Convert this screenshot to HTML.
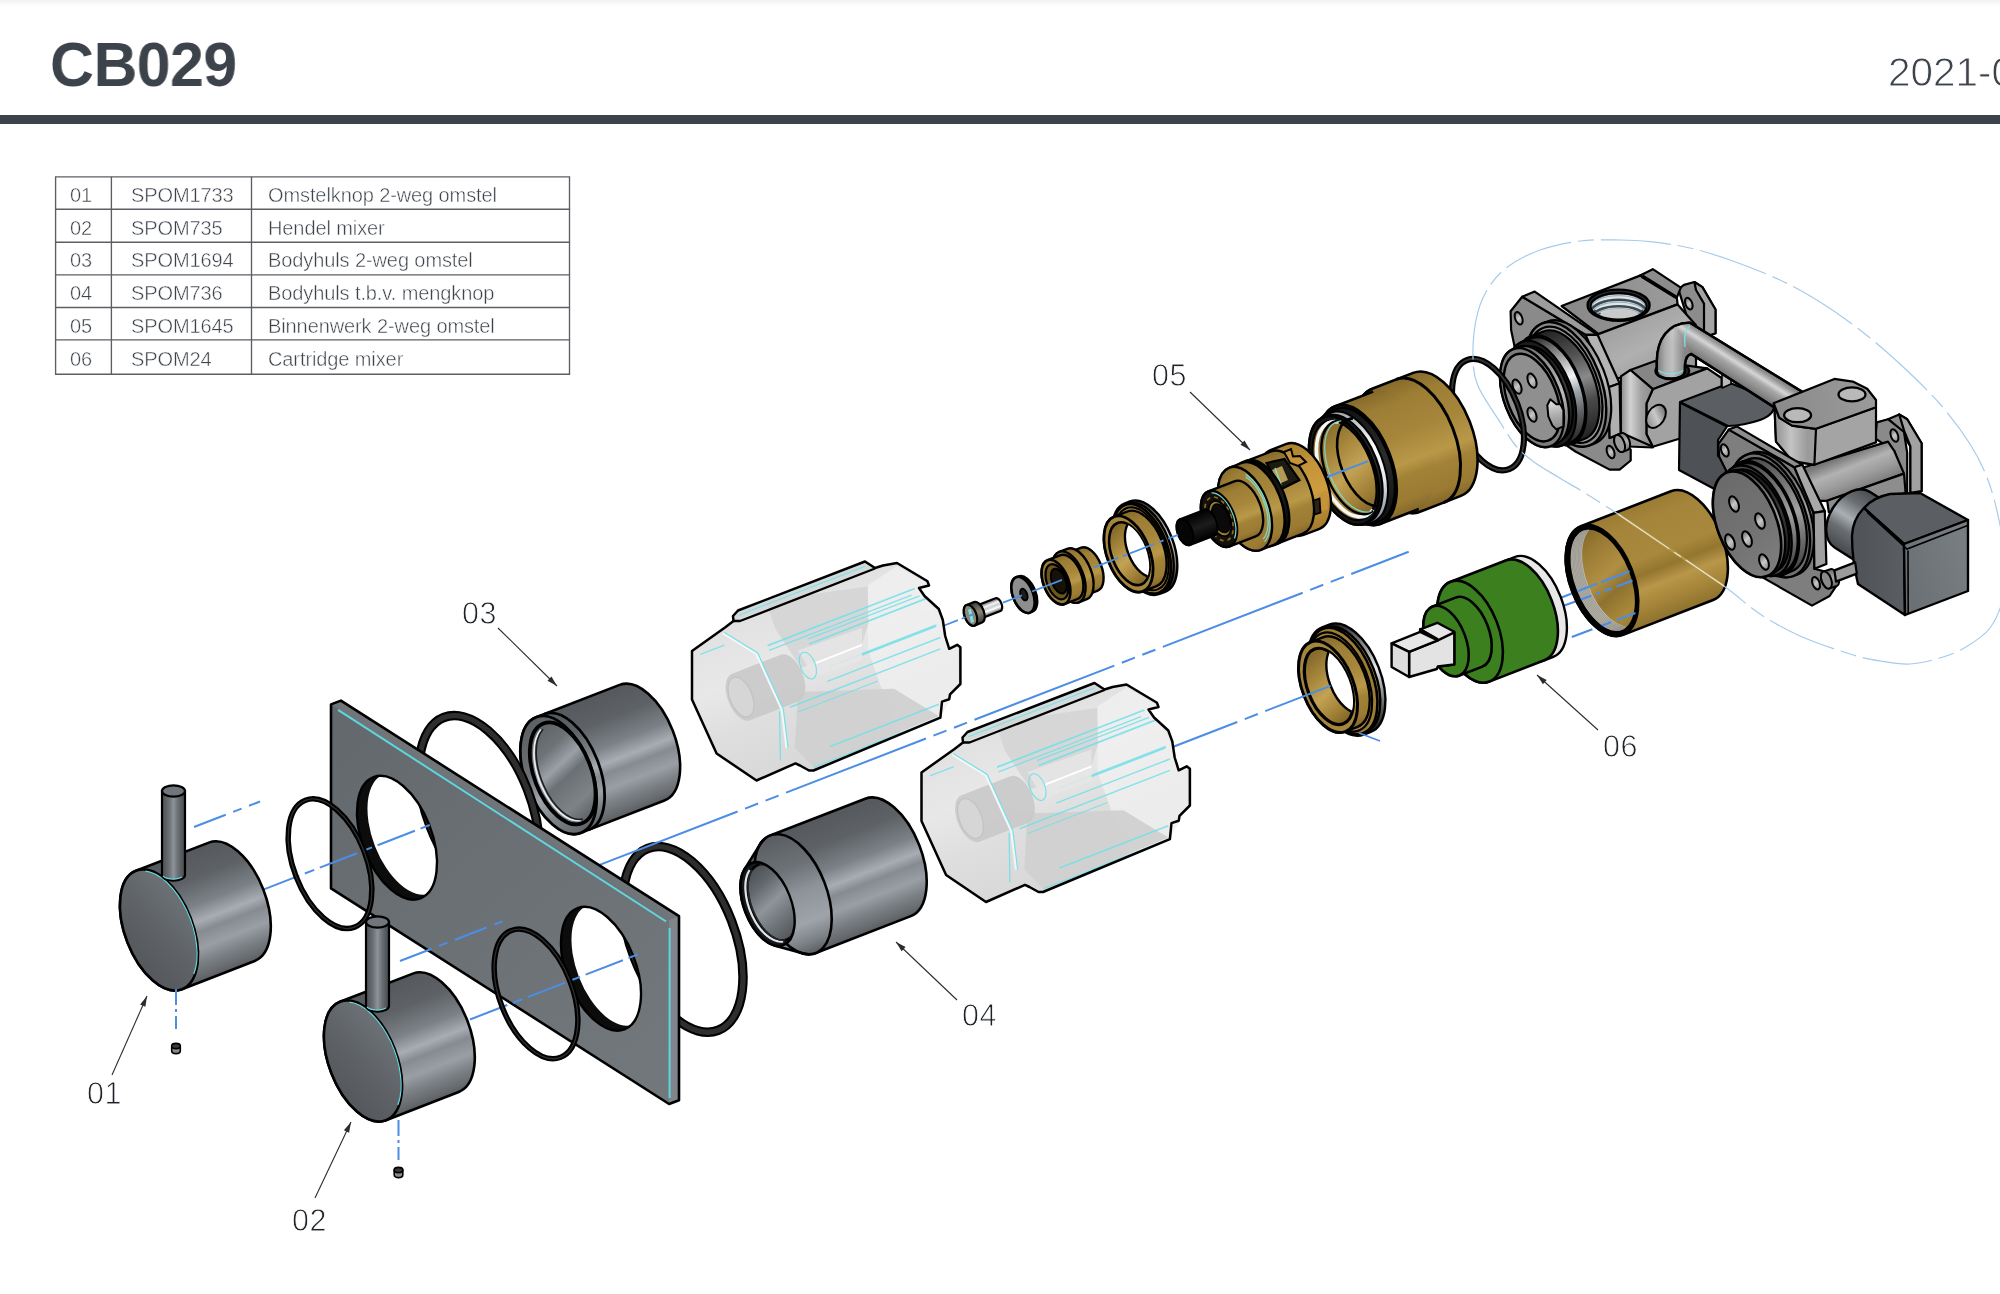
<!DOCTYPE html>
<html lang="nl"><head><meta charset="utf-8"><title>CB029</title>
<style>
html,body{margin:0;padding:0;background:#fff}
body{width:2000px;height:1294px;position:relative;overflow:hidden;font-family:"Liberation Sans",sans-serif;color:#3d434b}
.top{position:absolute;left:0;top:0;width:2000px;height:7px;background:linear-gradient(#f0f0f0,#fbfbfb 60%,#fff)}
h1{will-change:transform;position:absolute;left:49.6px;top:29px;margin:0;height:70px;font-size:62.5px;line-height:70px;font-weight:700;color:#3d434b;white-space:nowrap;transform-origin:0 50%;transform:scaleX(0.972);letter-spacing:-0.5px}
.date{position:absolute;left:1887.5px;top:49px;font-size:40.5px;line-height:46px;white-space:nowrap;color:#3d434b;-webkit-text-stroke:0.9px #fff;will-change:transform}
.t{position:absolute;font-size:20px;line-height:24px;color:#3d434b;white-space:nowrap;-webkit-text-stroke:0.45px #fff;letter-spacing:-0.1px;will-change:transform}
.bar{position:absolute;left:0;top:115px;width:2000px;height:8.5px;background:#3d434b}
.lb{position:absolute;font-size:30.5px;line-height:40px;color:#1e2226;-webkit-text-stroke:0.85px #fff;white-space:nowrap;letter-spacing:0.6px;will-change:transform}
</style></head><body>
<div class="top"></div>
<h1>CB029</h1>
<div class="bar"></div>
<svg width="2000" height="1294" viewBox="0 0 2000 1294" style="position:absolute;left:0;top:0"><defs><linearGradient id="g1" gradientUnits="userSpaceOnUse" x1="1580.9" y1="526.2" x2="1623.1" y2="634.9"><stop offset="0" stop-color="#9a7b33"/><stop offset="0.15" stop-color="#a5853a"/><stop offset="0.45" stop-color="#a8883c"/><stop offset="0.58" stop-color="#94762f"/><stop offset="0.7" stop-color="#b8964a"/><stop offset="0.85" stop-color="#a58539"/><stop offset="1" stop-color="#8d712f"/></linearGradient><linearGradient id="g2" gradientUnits="userSpaceOnUse" x1="1580.9" y1="526.2" x2="1623.1" y2="634.9"><stop offset="0" stop-color="#7d6326"/><stop offset="0.2" stop-color="#9a7b33"/><stop offset="0.45" stop-color="#b08f42"/><stop offset="0.6" stop-color="#8f7230"/><stop offset="0.8" stop-color="#a88839"/><stop offset="1" stop-color="#8d712f"/></linearGradient><clipPath id="c3"><path d="M1628.6 570.2A28.5 53.4 -21.2 0 1 1621.3 630.3A28.5 53.4 -21.2 0 1 1575.4 590.8A28.5 53.4 -21.2 0 1 1582.7 530.7A28.5 53.4 -21.2 0 1 1628.6 570.2Z"/></clipPath><linearGradient id="g4" gradientUnits="userSpaceOnUse" x1="1686.6" y1="297.8" x2="1691" y2="309.4"><stop offset="0" stop-color="#6a6a6a"/><stop offset="0.5" stop-color="#c8c8c8"/><stop offset="1" stop-color="#8a8a8a"/></linearGradient><linearGradient id="g5" gradientUnits="userSpaceOnUse" x1="1561.6" y1="306" x2="1676.8" y2="297.7"><stop offset="0" stop-color="#878787"/><stop offset="1" stop-color="#9b9b9b"/></linearGradient><clipPath id="c6"><ellipse cx="1618.6" cy="306.2" rx="28" ry="13.2"/></clipPath><linearGradient id="g7" gradientUnits="userSpaceOnUse" x1="1598.4" y1="334" x2="1632" y2="394"><stop offset="0" stop-color="#a0a0a0"/><stop offset="0.5" stop-color="#b0b0b0"/><stop offset="1" stop-color="#9a9a9a"/></linearGradient><linearGradient id="g8" gradientUnits="userSpaceOnUse" x1="1620.8" y1="394" x2="1652.8" y2="394"><stop offset="0" stop-color="#8a8a8a"/><stop offset="0.3" stop-color="#d2d2d2"/><stop offset="0.65" stop-color="#a0a0a0"/><stop offset="1" stop-color="#8c8c8c"/></linearGradient><linearGradient id="g9" gradientUnits="userSpaceOnUse" x1="1662.7" y1="405.9" x2="1649.3" y2="426.9"><stop offset="0" stop-color="#6a6a6a"/><stop offset="0.5" stop-color="#c8c8c8"/><stop offset="1" stop-color="#8a8a8a"/></linearGradient><linearGradient id="g10" gradientUnits="userSpaceOnUse" x1="1702.7" y1="327.9" x2="1687.3" y2="352.1"><stop offset="0" stop-color="#6e6e6e"/><stop offset="0.2" stop-color="#9c9c9c"/><stop offset="0.38" stop-color="#d6d6d6"/><stop offset="0.55" stop-color="#a6a6a6"/><stop offset="0.8" stop-color="#8a8a8a"/><stop offset="1" stop-color="#707070"/></linearGradient><linearGradient id="g11" gradientUnits="userSpaceOnUse" x1="1656.8" y1="0" x2="1684.8" y2="0"><stop offset="0" stop-color="#7a7a7a"/><stop offset="0.3" stop-color="#b8b8b8"/><stop offset="0.55" stop-color="#cfcfcf"/><stop offset="1" stop-color="#8a8a8a"/></linearGradient><linearGradient id="g12" gradientUnits="userSpaceOnUse" x1="1516.3" y1="312.2" x2="1521" y2="324.3"><stop offset="0" stop-color="#6a6a6a"/><stop offset="0.5" stop-color="#c8c8c8"/><stop offset="1" stop-color="#8a8a8a"/></linearGradient><linearGradient id="g13" gradientUnits="userSpaceOnUse" x1="1608.2" y1="445.9" x2="1612.9" y2="458.1"><stop offset="0" stop-color="#6a6a6a"/><stop offset="0.5" stop-color="#c8c8c8"/><stop offset="1" stop-color="#8a8a8a"/></linearGradient><linearGradient id="g14" gradientUnits="userSpaceOnUse" x1="1616.4" y1="435.1" x2="1622.9" y2="451.9"><stop offset="0" stop-color="#777"/><stop offset="0.5" stop-color="#b5b5b5"/><stop offset="1" stop-color="#777"/></linearGradient><linearGradient id="g15" gradientUnits="userSpaceOnUse" x1="1542.4" y1="323.4" x2="1589.6" y2="445.3"><stop offset="0" stop-color="#6e6e6e"/><stop offset="0.3" stop-color="#9a9a9a"/><stop offset="0.55" stop-color="#bdbdbd"/><stop offset="0.8" stop-color="#8a8a8a"/><stop offset="1" stop-color="#6a6a6a"/></linearGradient><linearGradient id="g16" gradientUnits="userSpaceOnUse" x1="1530.2" y1="336.6" x2="1571.8" y2="443.8"><stop offset="0" stop-color="#222"/><stop offset="0.3" stop-color="#555"/><stop offset="0.5" stop-color="#8a8a8a"/><stop offset="0.7" stop-color="#4a4a4a"/><stop offset="1" stop-color="#222"/></linearGradient><linearGradient id="g17" gradientUnits="userSpaceOnUse" x1="1521.9" y1="341.9" x2="1562.1" y2="445.4"><stop offset="0" stop-color="#2a2a2a"/><stop offset="0.2" stop-color="#8a8a8a"/><stop offset="0.45" stop-color="#f2f4f6"/><stop offset="0.6" stop-color="#9aa2a8"/><stop offset="0.8" stop-color="#5a5a5a"/><stop offset="1" stop-color="#2a2a2a"/></linearGradient><linearGradient id="g18" gradientUnits="userSpaceOnUse" x1="1518.9" y1="349" x2="1555.1" y2="442.2"><stop offset="0" stop-color="#111"/><stop offset="0.5" stop-color="#3a3a3a"/><stop offset="1" stop-color="#111"/></linearGradient><linearGradient id="g19" gradientUnits="userSpaceOnUse" x1="1513.2" y1="349.1" x2="1550.8" y2="446"><stop offset="0" stop-color="#6e6e6e"/><stop offset="0.3" stop-color="#9a9a9a"/><stop offset="0.55" stop-color="#bdbdbd"/><stop offset="0.8" stop-color="#8a8a8a"/><stop offset="1" stop-color="#6a6a6a"/></linearGradient><linearGradient id="g20" gradientUnits="userSpaceOnUse" x1="1514.3" y1="379.6" x2="1519.7" y2="393.5"><stop offset="0" stop-color="#6a6a6a"/><stop offset="0.5" stop-color="#c8c8c8"/><stop offset="1" stop-color="#8a8a8a"/></linearGradient><linearGradient id="g21" gradientUnits="userSpaceOnUse" x1="1529.3" y1="373.6" x2="1534.7" y2="387.5"><stop offset="0" stop-color="#6a6a6a"/><stop offset="0.5" stop-color="#c8c8c8"/><stop offset="1" stop-color="#8a8a8a"/></linearGradient><linearGradient id="g22" gradientUnits="userSpaceOnUse" x1="1529.3" y1="407.6" x2="1534.7" y2="421.5"><stop offset="0" stop-color="#6a6a6a"/><stop offset="0.5" stop-color="#c8c8c8"/><stop offset="1" stop-color="#8a8a8a"/></linearGradient><linearGradient id="g23" gradientUnits="userSpaceOnUse" x1="1550.3" y1="399.3" x2="1556.3" y2="429.4"><stop offset="0" stop-color="#e8e8e8"/><stop offset="0.5" stop-color="#b0b0b0"/><stop offset="1" stop-color="#8a8a8a"/></linearGradient><linearGradient id="g24" gradientUnits="userSpaceOnUse" x1="1892" y1="429.5" x2="1896.8" y2="441.6"><stop offset="0" stop-color="#6a6a6a"/><stop offset="0.5" stop-color="#c8c8c8"/><stop offset="1" stop-color="#8a8a8a"/></linearGradient><linearGradient id="g25" gradientUnits="userSpaceOnUse" x1="1824" y1="464" x2="1840" y2="504"><stop offset="0" stop-color="#777"/><stop offset="0.3" stop-color="#b2b2b2"/><stop offset="0.6" stop-color="#9a9a9a"/><stop offset="1" stop-color="#6f6f6f"/></linearGradient><linearGradient id="g26" gradientUnits="userSpaceOnUse" x1="1776" y1="416" x2="1872" y2="400"><stop offset="0" stop-color="#8a8a8a"/><stop offset="1" stop-color="#9a9a9a"/></linearGradient><linearGradient id="g27" gradientUnits="userSpaceOnUse" x1="1774.4" y1="432" x2="1816" y2="432"><stop offset="0" stop-color="#8f8f8f"/><stop offset="0.4" stop-color="#c4c4c4"/><stop offset="0.8" stop-color="#9a9a9a"/><stop offset="1" stop-color="#a0a0a0"/></linearGradient><linearGradient id="g28" gradientUnits="userSpaceOnUse" x1="1904.6" y1="513.9" x2="1869.2" y2="569.6"><stop offset="0" stop-color="#4a4e52"/><stop offset="0.25" stop-color="#6a6e72"/><stop offset="0.5" stop-color="#a9afb4"/><stop offset="0.7" stop-color="#6a6e72"/><stop offset="1" stop-color="#45494d"/></linearGradient><linearGradient id="g29" gradientUnits="userSpaceOnUse" x1="1852" y1="560" x2="1904" y2="560"><stop offset="0" stop-color="#4f5357"/><stop offset="1" stop-color="#5a5e62"/></linearGradient><linearGradient id="g30" gradientUnits="userSpaceOnUse" x1="1904" y1="580" x2="1968" y2="560"><stop offset="0" stop-color="#6b7075"/><stop offset="1" stop-color="#787d82"/></linearGradient><linearGradient id="g31" gradientUnits="userSpaceOnUse" x1="1722.4" y1="444.3" x2="1727.2" y2="456.5"><stop offset="0" stop-color="#6a6a6a"/><stop offset="0.5" stop-color="#c8c8c8"/><stop offset="1" stop-color="#8a8a8a"/></linearGradient><linearGradient id="g32" gradientUnits="userSpaceOnUse" x1="1813.6" y1="577.1" x2="1818.4" y2="589.3"><stop offset="0" stop-color="#6a6a6a"/><stop offset="0.5" stop-color="#c8c8c8"/><stop offset="1" stop-color="#8a8a8a"/></linearGradient><linearGradient id="g33" gradientUnits="userSpaceOnUse" x1="1823.1" y1="571.6" x2="1829.7" y2="588.4"><stop offset="0" stop-color="#666"/><stop offset="0.5" stop-color="#a5a5a5"/><stop offset="1" stop-color="#666"/></linearGradient><linearGradient id="g34" gradientUnits="userSpaceOnUse" x1="1746.5" y1="454.8" x2="1793.5" y2="576"><stop offset="0" stop-color="#4a4a4a"/><stop offset="0.3" stop-color="#777"/><stop offset="0.55" stop-color="#a0a0a0"/><stop offset="0.8" stop-color="#6a6a6a"/><stop offset="1" stop-color="#444"/></linearGradient><linearGradient id="g35" gradientUnits="userSpaceOnUse" x1="1740.3" y1="462.5" x2="1783.7" y2="574.4"><stop offset="0" stop-color="#4a4a4a"/><stop offset="0.3" stop-color="#777"/><stop offset="0.55" stop-color="#a0a0a0"/><stop offset="0.8" stop-color="#6a6a6a"/><stop offset="1" stop-color="#444"/></linearGradient><linearGradient id="g36" gradientUnits="userSpaceOnUse" x1="1735" y1="466.7" x2="1777" y2="574.9"><stop offset="0" stop-color="#4a4a4a"/><stop offset="0.3" stop-color="#777"/><stop offset="0.55" stop-color="#a0a0a0"/><stop offset="0.8" stop-color="#6a6a6a"/><stop offset="1" stop-color="#444"/></linearGradient><linearGradient id="g37" gradientUnits="userSpaceOnUse" x1="1731.5" y1="472.4" x2="1770.5" y2="573.1"><stop offset="0" stop-color="#111"/><stop offset="0.5" stop-color="#3a3a3a"/><stop offset="1" stop-color="#111"/></linearGradient><linearGradient id="g38" gradientUnits="userSpaceOnUse" x1="1726.9" y1="472.5" x2="1767.1" y2="576"><stop offset="0" stop-color="#4a4a4a"/><stop offset="0.3" stop-color="#777"/><stop offset="0.55" stop-color="#a0a0a0"/><stop offset="0.8" stop-color="#6a6a6a"/><stop offset="1" stop-color="#444"/></linearGradient><linearGradient id="g39" gradientUnits="userSpaceOnUse" x1="1727.1" y1="473" x2="1766.9" y2="575.6"><stop offset="0" stop-color="#6a6a6a"/><stop offset="0.6" stop-color="#737373"/><stop offset="1" stop-color="#7e7e7e"/></linearGradient><linearGradient id="g40" gradientUnits="userSpaceOnUse" x1="1731.1" y1="496.5" x2="1736.9" y2="511.5"><stop offset="0" stop-color="#6a6a6a"/><stop offset="0.5" stop-color="#c8c8c8"/><stop offset="1" stop-color="#8a8a8a"/></linearGradient><linearGradient id="g41" gradientUnits="userSpaceOnUse" x1="1757.1" y1="513.5" x2="1762.9" y2="528.5"><stop offset="0" stop-color="#6a6a6a"/><stop offset="0.5" stop-color="#c8c8c8"/><stop offset="1" stop-color="#8a8a8a"/></linearGradient><linearGradient id="g42" gradientUnits="userSpaceOnUse" x1="1744.1" y1="531.5" x2="1749.9" y2="546.5"><stop offset="0" stop-color="#6a6a6a"/><stop offset="0.5" stop-color="#c8c8c8"/><stop offset="1" stop-color="#8a8a8a"/></linearGradient><linearGradient id="g43" gradientUnits="userSpaceOnUse" x1="1727.1" y1="534.5" x2="1732.9" y2="549.5"><stop offset="0" stop-color="#6a6a6a"/><stop offset="0.5" stop-color="#c8c8c8"/><stop offset="1" stop-color="#8a8a8a"/></linearGradient><linearGradient id="g44" gradientUnits="userSpaceOnUse" x1="1761.1" y1="554.5" x2="1766.9" y2="569.5"><stop offset="0" stop-color="#6a6a6a"/><stop offset="0.5" stop-color="#c8c8c8"/><stop offset="1" stop-color="#8a8a8a"/></linearGradient><linearGradient id="g45" gradientUnits="userSpaceOnUse" x1="1372.1" y1="388.8" x2="1419.9" y2="511.8"><stop offset="0" stop-color="#866a2a"/><stop offset="0.15" stop-color="#9d7e35"/><stop offset="0.4" stop-color="#a6863b"/><stop offset="0.62" stop-color="#b99848"/><stop offset="0.72" stop-color="#a28236"/><stop offset="0.9" stop-color="#9b7b33"/><stop offset="1" stop-color="#84682a"/></linearGradient><linearGradient id="g46" gradientUnits="userSpaceOnUse" x1="1335.2" y1="406.3" x2="1380.8" y2="523.8"><stop offset="0" stop-color="#866a2a"/><stop offset="0.15" stop-color="#9d7e35"/><stop offset="0.4" stop-color="#a6863b"/><stop offset="0.62" stop-color="#b99848"/><stop offset="0.72" stop-color="#a28236"/><stop offset="0.9" stop-color="#9b7b33"/><stop offset="1" stop-color="#84682a"/></linearGradient><linearGradient id="g47" gradientUnits="userSpaceOnUse" x1="1330.3" y1="411.4" x2="1373.7" y2="523.3"><stop offset="0" stop-color="#111"/><stop offset="0.5" stop-color="#2c2c2c"/><stop offset="1" stop-color="#111"/></linearGradient><linearGradient id="g48" gradientUnits="userSpaceOnUse" x1="1326.3" y1="414.6" x2="1368.7" y2="523.6"><stop offset="0" stop-color="#9aa2a8"/><stop offset="0.4" stop-color="#ffffff"/><stop offset="0.7" stop-color="#e4e8ec"/><stop offset="1" stop-color="#8a9096"/></linearGradient><linearGradient id="g49" gradientUnits="userSpaceOnUse" x1="1323.4" y1="417.3" x2="1364.6" y2="523.6"><stop offset="0" stop-color="#111"/><stop offset="0.5" stop-color="#2c2c2c"/><stop offset="1" stop-color="#111"/></linearGradient><linearGradient id="g50" gradientUnits="userSpaceOnUse" x1="1325.2" y1="422" x2="1362.8" y2="518.9"><stop offset="0" stop-color="#7d6326"/><stop offset="0.3" stop-color="#a4853b"/><stop offset="0.55" stop-color="#c3a254"/><stop offset="0.8" stop-color="#a08036"/><stop offset="1" stop-color="#7a6024"/></linearGradient><linearGradient id="g51" gradientUnits="userSpaceOnUse" x1="1270.5" y1="450.1" x2="1303.5" y2="535"><stop offset="0" stop-color="#a8802f"/><stop offset="0.3" stop-color="#c4943a"/><stop offset="0.6" stop-color="#cf9d40"/><stop offset="1" stop-color="#a37a2b"/></linearGradient><linearGradient id="g52" gradientUnits="userSpaceOnUse" x1="1246.1" y1="461.2" x2="1277.9" y2="543.3"><stop offset="0" stop-color="#866a2a"/><stop offset="0.15" stop-color="#9d7e35"/><stop offset="0.4" stop-color="#a6863b"/><stop offset="0.62" stop-color="#b99848"/><stop offset="0.72" stop-color="#a28236"/><stop offset="0.9" stop-color="#9b7b33"/><stop offset="1" stop-color="#84682a"/></linearGradient><linearGradient id="g53" gradientUnits="userSpaceOnUse" x1="1241.4" y1="462.5" x2="1273.6" y2="545.5"><stop offset="0" stop-color="#000"/><stop offset="0.5" stop-color="#1c1c1c"/><stop offset="1" stop-color="#000"/></linearGradient><linearGradient id="g54" gradientUnits="userSpaceOnUse" x1="1229.1" y1="467.8" x2="1260.9" y2="549.9"><stop offset="0" stop-color="#866a2a"/><stop offset="0.15" stop-color="#9d7e35"/><stop offset="0.4" stop-color="#a6863b"/><stop offset="0.62" stop-color="#b99848"/><stop offset="0.72" stop-color="#a28236"/><stop offset="0.9" stop-color="#9b7b33"/><stop offset="1" stop-color="#84682a"/></linearGradient><linearGradient id="g55" gradientUnits="userSpaceOnUse" x1="1229.1" y1="467.8" x2="1260.9" y2="549.9"><stop offset="0" stop-color="#866a2a"/><stop offset="0.15" stop-color="#9d7e35"/><stop offset="0.4" stop-color="#a6863b"/><stop offset="0.62" stop-color="#b99848"/><stop offset="0.72" stop-color="#a28236"/><stop offset="0.9" stop-color="#9b7b33"/><stop offset="1" stop-color="#84682a"/></linearGradient><linearGradient id="g56" gradientUnits="userSpaceOnUse" x1="1208.3" y1="491.4" x2="1229.7" y2="546.4"><stop offset="0" stop-color="#866a2a"/><stop offset="0.15" stop-color="#9d7e35"/><stop offset="0.4" stop-color="#a6863b"/><stop offset="0.62" stop-color="#b99848"/><stop offset="0.72" stop-color="#a28236"/><stop offset="0.9" stop-color="#9b7b33"/><stop offset="1" stop-color="#84682a"/></linearGradient><linearGradient id="g57" gradientUnits="userSpaceOnUse" x1="1180" y1="519.3" x2="1190" y2="545"><stop offset="0" stop-color="#000"/><stop offset="0.5" stop-color="#1c1c1c"/><stop offset="1" stop-color="#000"/></linearGradient><linearGradient id="g58" gradientUnits="userSpaceOnUse" x1="975.5" y1="606.1" x2="980.5" y2="618.7"><stop offset="0" stop-color="#555"/><stop offset="0.3" stop-color="#f4f4f4"/><stop offset="0.5" stop-color="#c9ced2"/><stop offset="0.7" stop-color="#ffffff"/><stop offset="1" stop-color="#555"/></linearGradient><linearGradient id="g59" gradientUnits="userSpaceOnUse" x1="966.5" y1="605" x2="974.5" y2="625.6"><stop offset="0" stop-color="#3a3a3a"/><stop offset="0.5" stop-color="#8a8674"/><stop offset="1" stop-color="#3a3a3a"/></linearGradient><linearGradient id="g60" gradientUnits="userSpaceOnUse" x1="1016.1" y1="577.2" x2="1029.9" y2="612.7"><stop offset="0" stop-color="#222"/><stop offset="1" stop-color="#222"/></linearGradient><linearGradient id="g61" gradientUnits="userSpaceOnUse" x1="1068.7" y1="552.6" x2="1085.3" y2="595.4"><stop offset="0" stop-color="#866a2a"/><stop offset="0.15" stop-color="#9d7e35"/><stop offset="0.4" stop-color="#a6863b"/><stop offset="0.62" stop-color="#b99848"/><stop offset="0.72" stop-color="#a28236"/><stop offset="0.9" stop-color="#9b7b33"/><stop offset="1" stop-color="#84682a"/></linearGradient><linearGradient id="g62" gradientUnits="userSpaceOnUse" x1="1059.2" y1="551.9" x2="1078.8" y2="602.3"><stop offset="0" stop-color="#866a2a"/><stop offset="0.15" stop-color="#9d7e35"/><stop offset="0.4" stop-color="#a6863b"/><stop offset="0.62" stop-color="#b99848"/><stop offset="0.72" stop-color="#a28236"/><stop offset="0.9" stop-color="#9b7b33"/><stop offset="1" stop-color="#84682a"/></linearGradient><linearGradient id="g63" gradientUnits="userSpaceOnUse" x1="1047.5" y1="560.2" x2="1064.5" y2="604.1"><stop offset="0" stop-color="#866a2a"/><stop offset="0.15" stop-color="#9d7e35"/><stop offset="0.4" stop-color="#a6863b"/><stop offset="0.62" stop-color="#b99848"/><stop offset="0.72" stop-color="#a28236"/><stop offset="0.9" stop-color="#9b7b33"/><stop offset="1" stop-color="#84682a"/></linearGradient><linearGradient id="g64" gradientUnits="userSpaceOnUse" x1="1124.5" y1="503.6" x2="1159.5" y2="594"><stop offset="0" stop-color="#1a1a1a"/><stop offset="0.5" stop-color="#dfe3e6"/><stop offset="1" stop-color="#1a1a1a"/></linearGradient><linearGradient id="g65" gradientUnits="userSpaceOnUse" x1="1125" y1="505" x2="1159" y2="592.6"><stop offset="0" stop-color="#866a2a"/><stop offset="0.15" stop-color="#9d7e35"/><stop offset="0.4" stop-color="#a6863b"/><stop offset="0.62" stop-color="#b99848"/><stop offset="0.72" stop-color="#a28236"/><stop offset="0.9" stop-color="#9b7b33"/><stop offset="1" stop-color="#84682a"/></linearGradient><linearGradient id="g66" gradientUnits="userSpaceOnUse" x1="1114" y1="516.7" x2="1143" y2="591.3"><stop offset="0" stop-color="#866a2a"/><stop offset="0.15" stop-color="#9d7e35"/><stop offset="0.4" stop-color="#a6863b"/><stop offset="0.62" stop-color="#b99848"/><stop offset="0.72" stop-color="#a28236"/><stop offset="0.9" stop-color="#9b7b33"/><stop offset="1" stop-color="#84682a"/></linearGradient><linearGradient id="g67" gradientUnits="userSpaceOnUse" x1="1116.6" y1="523.3" x2="1140.4" y2="584.8"><stop offset="0" stop-color="#7d6326"/><stop offset="0.3" stop-color="#a4853b"/><stop offset="0.55" stop-color="#c3a254"/><stop offset="0.8" stop-color="#a08036"/><stop offset="1" stop-color="#7a6024"/></linearGradient><clipPath id="c68"><path d="M1145.4 547.5A17.2 32.2 -21.2 0 1 1141.1 583.7A17.2 32.2 -21.2 0 1 1113.4 559.9A17.2 32.2 -21.2 0 1 1117.8 523.6A17.2 32.2 -21.2 0 1 1145.4 547.5Z"/></clipPath><linearGradient id="g69" gradientUnits="userSpaceOnUse" x1="1505.7" y1="560.5" x2="1544.3" y2="660.3"><stop offset="0" stop-color="#e8e8e8"/><stop offset="1" stop-color="#e8e8e8"/></linearGradient><linearGradient id="g70" gradientUnits="userSpaceOnUse" x1="1450.7" y1="581.8" x2="1489.3" y2="681.6"><stop offset="0" stop-color="#3b7f1f"/><stop offset="1" stop-color="#3b7f1f"/></linearGradient><linearGradient id="g71" gradientUnits="userSpaceOnUse" x1="1432.6" y1="606.5" x2="1459.4" y2="675.5"><stop offset="0" stop-color="#3b7f1f"/><stop offset="1" stop-color="#3b7f1f"/></linearGradient><linearGradient id="g72" gradientUnits="userSpaceOnUse" x1="1322.2" y1="627.3" x2="1363.8" y2="734.6"><stop offset="0" stop-color="#1a1a1a"/><stop offset="0.5" stop-color="#e6eaee"/><stop offset="1" stop-color="#1a1a1a"/></linearGradient><linearGradient id="g73" gradientUnits="userSpaceOnUse" x1="1322.8" y1="628.7" x2="1363.2" y2="733.2"><stop offset="0" stop-color="#866a2a"/><stop offset="0.15" stop-color="#9d7e35"/><stop offset="0.4" stop-color="#a6863b"/><stop offset="0.62" stop-color="#b99848"/><stop offset="0.72" stop-color="#a28236"/><stop offset="0.9" stop-color="#9b7b33"/><stop offset="1" stop-color="#84682a"/></linearGradient><linearGradient id="g74" gradientUnits="userSpaceOnUse" x1="1310.6" y1="642" x2="1345.4" y2="731.5"><stop offset="0" stop-color="#866a2a"/><stop offset="0.15" stop-color="#9d7e35"/><stop offset="0.4" stop-color="#a6863b"/><stop offset="0.62" stop-color="#b99848"/><stop offset="0.72" stop-color="#a28236"/><stop offset="0.9" stop-color="#9b7b33"/><stop offset="1" stop-color="#84682a"/></linearGradient><linearGradient id="g75" gradientUnits="userSpaceOnUse" x1="1313.5" y1="649.5" x2="1342.5" y2="724.1"><stop offset="0" stop-color="#7d6326"/><stop offset="0.3" stop-color="#a4853b"/><stop offset="0.55" stop-color="#c3a254"/><stop offset="0.8" stop-color="#a08036"/><stop offset="1" stop-color="#7a6024"/></linearGradient><clipPath id="c76"><path d="M1348.4 678.8A20.9 39.2 -21.2 0 1 1343.1 723A20.9 39.2 -21.2 0 1 1309.4 694A20.9 39.2 -21.2 0 1 1314.8 649.9A20.9 39.2 -21.2 0 1 1348.4 678.8Z"/></clipPath><linearGradient id="g77" gradientUnits="userSpaceOnUse" x1="760" y1="600" x2="830" y2="780"><stop offset="0" stop-color="#e0e0e0"/><stop offset="0.35" stop-color="#e8e8e8"/><stop offset="0.6" stop-color="#dedede"/><stop offset="1" stop-color="#d6d6d6"/></linearGradient><linearGradient id="g78" gradientUnits="userSpaceOnUse" x1="989.5" y1="721.5" x2="1059.5" y2="901.5"><stop offset="0" stop-color="#e0e0e0"/><stop offset="0.35" stop-color="#e8e8e8"/><stop offset="0.6" stop-color="#dedede"/><stop offset="1" stop-color="#d6d6d6"/></linearGradient><linearGradient id="g79" gradientUnits="userSpaceOnUse" x1="536.1" y1="717.3" x2="580.9" y2="832.9"><stop offset="0" stop-color="#55595e"/><stop offset="0.22" stop-color="#5e6267"/><stop offset="0.42" stop-color="#7b8186"/><stop offset="0.55" stop-color="#a7adb2"/><stop offset="0.63" stop-color="#858b90"/><stop offset="0.75" stop-color="#999fa4"/><stop offset="0.86" stop-color="#7b8085"/><stop offset="0.95" stop-color="#686c71"/><stop offset="1" stop-color="#5a5e62"/></linearGradient><linearGradient id="g80" gradientUnits="userSpaceOnUse" x1="536.1" y1="717.3" x2="580.9" y2="832.9"><stop offset="0" stop-color="#5a5e63"/><stop offset="0.35" stop-color="#6d7277"/><stop offset="0.55" stop-color="#a0a6ab"/><stop offset="0.75" stop-color="#7b8085"/><stop offset="1" stop-color="#5e6267"/></linearGradient><linearGradient id="g81" gradientUnits="userSpaceOnUse" x1="543.5" y1="724" x2="581.9" y2="822.9"><stop offset="0" stop-color="#5d6166"/><stop offset="0.25" stop-color="#6e7378"/><stop offset="0.42" stop-color="#9aa0a5"/><stop offset="0.55" stop-color="#6b7075"/><stop offset="0.8" stop-color="#7e8388"/><stop offset="1" stop-color="#5a5e62"/></linearGradient><linearGradient id="g82" gradientUnits="userSpaceOnUse" x1="770.2" y1="835.5" x2="815.8" y2="953"><stop offset="0" stop-color="#55595e"/><stop offset="0.22" stop-color="#5e6267"/><stop offset="0.42" stop-color="#7b8186"/><stop offset="0.55" stop-color="#a7adb2"/><stop offset="0.63" stop-color="#858b90"/><stop offset="0.75" stop-color="#999fa4"/><stop offset="0.86" stop-color="#7b8085"/><stop offset="0.95" stop-color="#686c71"/><stop offset="1" stop-color="#5a5e62"/></linearGradient><linearGradient id="g83" gradientUnits="userSpaceOnUse" x1="744.7" y1="845.4" x2="790.3" y2="962.9"><stop offset="0" stop-color="#595d62"/><stop offset="0.3" stop-color="#6d7277"/><stop offset="0.5" stop-color="#8d9398"/><stop offset="0.75" stop-color="#9ea4a9"/><stop offset="0.9" stop-color="#7b8085"/><stop offset="1" stop-color="#5a5e62"/></linearGradient><linearGradient id="g84" gradientUnits="userSpaceOnUse" x1="753" y1="866.8" x2="782" y2="941.4"><stop offset="0" stop-color="#4a4e52"/><stop offset="0.25" stop-color="#63686d"/><stop offset="0.5" stop-color="#8e9499"/><stop offset="0.75" stop-color="#6d7277"/><stop offset="1" stop-color="#505458"/></linearGradient><clipPath id="c85"><path d="M788.5 896A22.5 42.2 -21.2 0 1 782.8 943.5A22.5 42.2 -21.2 0 1 746.5 912.3A22.5 42.2 -21.2 0 1 752.2 864.8A22.5 42.2 -21.2 0 1 788.5 896Z"/></clipPath><linearGradient id="g86" gradientUnits="userSpaceOnUse" x1="331" y1="704.4" x2="669.1" y2="1104"><stop offset="0" stop-color="#63686d"/><stop offset="0.5" stop-color="#6c7176"/><stop offset="1" stop-color="#73787d"/></linearGradient><clipPath id="c87"><path d="M429.3 825.2A34.7 65 -21.2 0 1 420.5 898.3A34.7 65 -21.2 0 1 364.7 850.2A34.7 65 -21.2 0 1 373.5 777.1A34.7 65 -21.2 0 1 429.3 825.2Z"/></clipPath><clipPath id="c88"><path d="M633.3 956.2A34.7 65 -21.2 0 1 624.5 1029.3A34.7 65 -21.2 0 1 568.7 981.2A34.7 65 -21.2 0 1 577.5 908.1A34.7 65 -21.2 0 1 633.3 956.2Z"/></clipPath><linearGradient id="g89" gradientUnits="userSpaceOnUse" x1="136" y1="870.8" x2="182" y2="989.2"><stop offset="0" stop-color="#55595e"/><stop offset="0.22" stop-color="#5e6267"/><stop offset="0.42" stop-color="#7b8186"/><stop offset="0.55" stop-color="#a7adb2"/><stop offset="0.63" stop-color="#858b90"/><stop offset="0.75" stop-color="#999fa4"/><stop offset="0.86" stop-color="#7b8085"/><stop offset="0.95" stop-color="#686c71"/><stop offset="1" stop-color="#5a5e62"/></linearGradient><linearGradient id="g90" gradientUnits="userSpaceOnUse" x1="127.4" y1="942.2" x2="190.6" y2="917.8"><stop offset="0" stop-color="#565a5f"/><stop offset="0.5" stop-color="#5f6368"/><stop offset="1" stop-color="#6b7075"/></linearGradient><linearGradient id="g91" gradientUnits="userSpaceOnUse" x1="162" y1="0" x2="185" y2="0"><stop offset="0" stop-color="#4a4e52"/><stop offset="0.3" stop-color="#6a6f74"/><stop offset="0.5" stop-color="#8c9297"/><stop offset="0.7" stop-color="#6a6f74"/><stop offset="1" stop-color="#43474b"/></linearGradient><linearGradient id="g92" gradientUnits="userSpaceOnUse" x1="340" y1="1001.8" x2="386" y2="1120.2"><stop offset="0" stop-color="#55595e"/><stop offset="0.22" stop-color="#5e6267"/><stop offset="0.42" stop-color="#7b8186"/><stop offset="0.55" stop-color="#a7adb2"/><stop offset="0.63" stop-color="#858b90"/><stop offset="0.75" stop-color="#999fa4"/><stop offset="0.86" stop-color="#7b8085"/><stop offset="0.95" stop-color="#686c71"/><stop offset="1" stop-color="#5a5e62"/></linearGradient><linearGradient id="g93" gradientUnits="userSpaceOnUse" x1="331.4" y1="1073.2" x2="394.6" y2="1048.8"><stop offset="0" stop-color="#565a5f"/><stop offset="0.5" stop-color="#5f6368"/><stop offset="1" stop-color="#6b7075"/></linearGradient><linearGradient id="g94" gradientUnits="userSpaceOnUse" x1="366" y1="0" x2="389" y2="0"><stop offset="0" stop-color="#4a4e52"/><stop offset="0.3" stop-color="#6a6f74"/><stop offset="0.5" stop-color="#8c9297"/><stop offset="0.7" stop-color="#6a6f74"/><stop offset="1" stop-color="#43474b"/></linearGradient></defs>
<path d="M1713.1 600A31.1 58.3 -21.2 0 0 1721 534.4A31.1 58.3 -21.2 0 0 1670.9 491.3L1580.9 526.2A31.1 58.3 -21.2 0 0 1573 591.8A31.1 58.3 -21.2 0 0 1623.1 634.9Z" fill="url(#g1)" stroke="#000" stroke-width="2.6" stroke-linejoin="round" />
<path d="M1619.8 633.8A30 56.3 -21.2 0 1 1605.6 631.4" fill="none" stroke="#e8dfc0" stroke-width="1" />
<ellipse cx="1602" cy="580.5" rx="30" ry="56.2" transform="rotate(-21.2 1602 580.5)" fill="#b9b7ae" stroke="#000" stroke-width="6" />
<g clip-path="url(#c3)">
<ellipse cx="1603.3" cy="580" rx="28.6" ry="53.6" transform="rotate(-21.2 1603.3 580)" fill="none" stroke="#8f8d84" stroke-width="0.6" />
<ellipse cx="1604.6" cy="579.5" rx="28.6" ry="53.6" transform="rotate(-21.2 1604.6 579.5)" fill="none" stroke="#8f8d84" stroke-width="0.6" />
<ellipse cx="1605.9" cy="579" rx="28.6" ry="53.6" transform="rotate(-21.2 1605.9 579)" fill="none" stroke="#8f8d84" stroke-width="0.6" />
<ellipse cx="1607.2" cy="578.5" rx="28.6" ry="53.6" transform="rotate(-21.2 1607.2 578.5)" fill="none" stroke="#8f8d84" stroke-width="0.6" />
<ellipse cx="1608.5" cy="578" rx="28.6" ry="53.6" transform="rotate(-21.2 1608.5 578)" fill="none" stroke="#8f8d84" stroke-width="0.6" />
<ellipse cx="1609.8" cy="577.5" rx="28.6" ry="53.6" transform="rotate(-21.2 1609.8 577.5)" fill="none" stroke="#8f8d84" stroke-width="0.6" />
<ellipse cx="1611.1" cy="577" rx="28.6" ry="53.6" transform="rotate(-21.2 1611.1 577)" fill="none" stroke="#8f8d84" stroke-width="0.6" />
<ellipse cx="1612.4" cy="576.5" rx="28.6" ry="53.6" transform="rotate(-21.2 1612.4 576.5)" fill="none" stroke="#8f8d84" stroke-width="0.6" />
<ellipse cx="1613.7" cy="576" rx="28.6" ry="53.6" transform="rotate(-21.2 1613.7 576)" fill="none" stroke="#8f8d84" stroke-width="0.6" />
<ellipse cx="1615.1" cy="575.5" rx="28.6" ry="53.6" transform="rotate(-21.2 1615.1 575.5)" fill="url(#g2)" stroke="none" stroke-width="0" />
</g>
<line x1="1560.2" y1="598" x2="1629.6" y2="571.2" stroke="#4b8ee3" stroke-width="2.2" stroke-dasharray="40 4 40"/>
<line x1="1563" y1="606" x2="1632.5" y2="580.6" stroke="#4b8ee3" stroke-width="2.2" stroke-dasharray="30 5 4 5 8 5 30"/>
<line x1="1571.8" y1="637" x2="1635.4" y2="613" stroke="#4b8ee3" stroke-width="2.2" stroke-dasharray="22 6 14 6 30"/>
<path d="M1617.2 634A30 56.2 -21.2 0 1 1574 591.4A30 56.2 -21.2 0 1 1577.1 530.8" fill="none" stroke="#000" stroke-width="6" />
<path d="M1678.4 289.2L1684 284.9L1694.4 282L1702.4 287.1L1715.5 309.5L1715.5 333.2L1704 337.2L1689.6 325.2Z" fill="#8c8c8c" stroke="#000" stroke-width="2.2" stroke-linejoin="round" />
<path d="M1694.4 282L1702.4 287.1L1715.5 309.5L1715.5 333.2L1704 337.2L1704 303.6L1696 290Z" fill="#a4a4a4" stroke="#000" stroke-width="2.2" stroke-linejoin="round" />
<ellipse cx="1688.8" cy="303.6" rx="3.3" ry="6.2" transform="rotate(-21.2 1688.8 303.6)" fill="url(#g4)" stroke="#000" stroke-width="2" />
<path d="M1640 275.6L1652.8 269.2L1680.8 287.6L1676.8 297.7Z" fill="#8c8c8c" stroke="#000" stroke-width="2.2" stroke-linejoin="round" />
<path d="M1561.6 306L1640 275.6L1676.8 297.7L1677.6 304.4L1598.4 334Z" fill="url(#g5)" stroke="#000" stroke-width="2.2" stroke-linejoin="round" />
<line x1="1642.4" y1="276.4" x2="1676.5" y2="297.5" stroke="#000" stroke-width="3.6" />
<ellipse cx="1618.6" cy="305.2" rx="31" ry="15.6" fill="#2a2a2a" stroke="#000" stroke-width="2.4"/>
<g clip-path="url(#c6)">
<rect x="1587.6" y="288.2" width="62" height="34" fill="#dfe6ea"/>
<ellipse cx="1618.6" cy="305.2" rx="27" ry="12" fill="none" stroke="#3e4a52" stroke-width="2.6"/>
<ellipse cx="1618.6" cy="307.6" rx="27" ry="12" fill="none" stroke="#9fb2be" stroke-width="1.4"/>
<ellipse cx="1618.6" cy="311.7" rx="27" ry="12" fill="none" stroke="#3e4a52" stroke-width="2.6"/>
<ellipse cx="1618.6" cy="314.1" rx="27" ry="12" fill="none" stroke="#9fb2be" stroke-width="1.4"/>
<ellipse cx="1618.6" cy="318.2" rx="27" ry="12" fill="none" stroke="#3e4a52" stroke-width="2.6"/>
<ellipse cx="1618.6" cy="320.6" rx="27" ry="12" fill="none" stroke="#9fb2be" stroke-width="1.4"/>
<ellipse cx="1618.6" cy="324.2" rx="27" ry="12" fill="none" stroke="#3e4a52" stroke-width="2.6"/>
<ellipse cx="1618.6" cy="326.6" rx="27" ry="12" fill="none" stroke="#9fb2be" stroke-width="1.4"/>
<ellipse cx="1619.6" cy="318.2" rx="22" ry="9" fill="#c9c9c9"/>
</g>
<ellipse cx="1618.6" cy="306.2" rx="28" ry="13.2" fill="none" stroke="#000" stroke-width="2"/>
<path d="M1597.6 334.5L1677.6 304.4L1696 325.2L1696 378L1616 378L1609.6 386Z" fill="url(#g7)" stroke="#000" stroke-width="2.2" stroke-linejoin="round" />
<path d="M1609.6 437.9L1620.6 433.4L1644.7 430.4L1652.8 447.5L1628.7 446.5L1613.6 441.5Z" fill="#9a9a9a" stroke="#000" stroke-width="2.2" stroke-linejoin="round" />
<path d="M1630.4 370L1654.4 361.2L1707.2 368.4L1652.8 389.2Z" fill="#868686" stroke="#000" stroke-width="2.2" stroke-linejoin="round" />
<path d="M1652.8 389.2L1707.2 368.4L1721.6 378L1721.6 426L1652.8 446.8L1646.4 434L1646.4 403.6Z" fill="#a2a2a2" stroke="#000" stroke-width="2.2" stroke-linejoin="round" />
<path d="M1620.8 376.4L1630.4 370L1652.8 389.2L1646.4 403.6L1646.4 434L1652.8 446.8L1620.8 432.4Z" fill="url(#g8)" stroke="#000" stroke-width="2.2" stroke-linejoin="round" />
<ellipse cx="1656" cy="416.4" rx="8.6" ry="12.5" transform="rotate(32.5 1656 416.4)" fill="url(#g9)" stroke="#000" stroke-width="2" />
<path d="M1680 402L1730 383L1774 400.5Q1777 414 1760 420Q1744 425.5 1728 426Z" fill="#5b5f63" stroke="#000" stroke-width="2.2" stroke-linejoin="round"/>
<path d="M1680 402.5L1727 426.5L1718 440L1718 456L1728 462L1724 480L1720 492L1679 470Z" fill="#4e5256" stroke="#000" stroke-width="2.2" stroke-linejoin="round" />
<path d="M1722 372L1731 378L1731 384L1722 388Z" fill="#b9bcbf" stroke="#000" stroke-width="1.6" stroke-linejoin="round" />
<ellipse cx="1672.3" cy="371.1" rx="17" ry="8.4" fill="#1c1c1c" stroke="#000" stroke-width="2"/>
<path d="M1656.8 371.6L1656.8 361.6C1657 339 1668 323 1689.6 322.6L1814 398.9L1798.6 423L1691.2 354Q1685.5 355 1684.8 365.6L1684.8 371.6A14 6.9 0 0 1 1656.8 371.6Z" fill="url(#g10)" stroke="#000" stroke-width="2.4" stroke-linejoin="round"/>
<path d="M1656.8 371.6L1656.8 361.6C1657 345 1664 333 1676 328L1691 354Q1685.5 355 1684.8 365.6L1684.8 371.6A14 6.9 0 0 1 1656.8 371.6Z" fill="url(#g11)" stroke="none" stroke-width="0" opacity="0.85"/>
<path d="M1656.8 371.6L1656.8 361.6C1657 339 1668 323 1689.6 322.6L1814 398.9L1798.6 423L1691.2 354Q1685.5 355 1684.8 365.6L1684.8 371.6A14 6.9 0 0 1 1656.8 371.6Z" fill="none" stroke="#000" stroke-width="2.4" stroke-linejoin="round"/>
<path d="M1658.8 370.6A14 6.9 0 0 0 1682.8 370.6" fill="none" stroke="#7fe0e4" stroke-width="1.3"/>
<path d="M1690 325.5Q1683 332 1685 347" fill="none" stroke="#7fe0e4" stroke-width="1.3" />
<path d="M1510.6 311.2L1522.2 296.7L1585.5 334.8L1608.6 387.2L1609.6 438L1613.6 436.4L1630.7 449.5L1630.7 460.5L1619.6 469.6L1609.6 469.6L1575.4 451.5L1530 420L1511.1 330Z" fill="#8a8a8a" stroke="#000" stroke-width="2.2" stroke-linejoin="round" />
<path d="M1522.2 296.7L1534.7 291.6L1597.5 334.8L1585.5 334.8Z" fill="#9c9c9c" stroke="#000" stroke-width="2.2" stroke-linejoin="round" />
<path d="M1585.5 334.8L1597.5 334.8L1619.6 383.2L1608.6 387.2Z" fill="#b4b4b4" stroke="#000" stroke-width="2.2" stroke-linejoin="round" />
<path d="M1608.6 387.2L1619.6 383.2L1620.6 433.4L1609.6 438Z" fill="#b0b0b0" stroke="#000" stroke-width="2.2" stroke-linejoin="round" />
<ellipse cx="1518.7" cy="318.3" rx="3.5" ry="6.5" transform="rotate(-21.2 1518.7 318.3)" fill="url(#g12)" stroke="#000" stroke-width="2" />
<ellipse cx="1610.6" cy="452" rx="3.5" ry="6.5" transform="rotate(-21.2 1610.6 452)" fill="url(#g13)" stroke="#000" stroke-width="2" />
<path d="M1627.9 449.8A4.8 9 -21.2 0 0 1629.1 439.7A4.8 9 -21.2 0 0 1621.4 433.1L1616.4 435.1A4.8 9 -21.2 0 0 1615.2 445.2A4.8 9 -21.2 0 0 1622.9 451.9Z" fill="url(#g14)" stroke="#000" stroke-width="2" stroke-linejoin="round" />
<ellipse cx="1619.6" cy="443.5" rx="4.8" ry="9" transform="rotate(-21.2 1619.6 443.5)" fill="#9a9a9a" stroke="#000" stroke-width="2" />
<path d="M1594.6 443.4A34.9 65.4 -21.2 0 0 1603.5 369.8A34.9 65.4 -21.2 0 0 1547.4 321.5L1542.4 323.4A34.9 65.4 -21.2 0 0 1533.5 397A34.9 65.4 -21.2 0 0 1589.6 445.3Z" fill="url(#g15)" stroke="#000" stroke-width="2.2" stroke-linejoin="round" />
<ellipse cx="1566" cy="384.4" rx="34.9" ry="65.4" transform="rotate(-21.2 1566 384.4)" fill="#8c8c8c" stroke="#000" stroke-width="2.4" />
<ellipse cx="1565" cy="384.8" rx="32.5" ry="61" transform="rotate(-21.2 1565 384.8)" fill="#9a9a9a" stroke="#000" stroke-width="2.2" />
<path d="M1584.8 438.8A30.7 57.5 -21.2 0 0 1592.6 374A30.7 57.5 -21.2 0 0 1543.2 331.5L1530.2 336.6A30.7 57.5 -21.2 0 0 1522.4 401.3A30.7 57.5 -21.2 0 0 1571.8 443.8Z" fill="url(#g16)" stroke="#000" stroke-width="2.2" stroke-linejoin="round" />
<path d="M1578.3 441.3A30.7 57.5 -21.2 0 1 1528.9 398.8A30.7 57.5 -21.2 0 1 1536.7 334.1" fill="none" stroke="#000" stroke-width="2.6" />
<ellipse cx="1551" cy="390.2" rx="30.7" ry="57.5" transform="rotate(-21.2 1551 390.2)" fill="#2a2a2a" stroke="#000" stroke-width="2.2" />
<path d="M1571.1 441.9A29.6 55.5 -21.2 0 0 1578.6 379.5A29.6 55.5 -21.2 0 0 1530.9 338.4L1521.9 341.9A29.6 55.5 -21.2 0 0 1514.4 404.4A29.6 55.5 -21.2 0 0 1562.1 445.4Z" fill="url(#g17)" stroke="#000" stroke-width="2.2" stroke-linejoin="round" />
<ellipse cx="1542" cy="393.7" rx="29.6" ry="55.5" transform="rotate(-21.2 1542 393.7)" fill="#1c1c1c" stroke="#000" stroke-width="2.2" />
<path d="M1560.1 440.3A26.7 50 -21.2 0 0 1566.9 384A26.7 50 -21.2 0 0 1523.9 347.1L1518.9 349A26.7 50 -21.2 0 0 1512.1 405.3A26.7 50 -21.2 0 0 1555.1 442.2Z" fill="url(#g18)" stroke="#000" stroke-width="2.2" stroke-linejoin="round" />
<ellipse cx="1537" cy="395.6" rx="27.2" ry="51" transform="rotate(-21.2 1537 395.6)" fill="#3a3a3a" stroke="#000" stroke-width="2.2" />
<path d="M1555.8 444.1A27.7 52 -21.2 0 0 1562.9 385.6A27.7 52 -21.2 0 0 1518.2 347.1L1513.2 349.1A27.7 52 -21.2 0 0 1506.1 407.6A27.7 52 -21.2 0 0 1550.8 446Z" fill="url(#g19)" stroke="#000" stroke-width="2.2" stroke-linejoin="round" />
<ellipse cx="1532" cy="397.6" rx="27.7" ry="52" transform="rotate(-21.2 1532 397.6)" fill="#7c7c7c" stroke="#000" stroke-width="2.4" />
<ellipse cx="1532" cy="397.6" rx="24.5" ry="46" transform="rotate(-21.2 1532 397.6)" fill="#8f8f8f" stroke="#000" stroke-width="2.4" />
<ellipse cx="1517" cy="386.6" rx="4" ry="7.5" transform="rotate(-21.2 1517 386.6)" fill="url(#g20)" stroke="#000" stroke-width="2" />
<ellipse cx="1532" cy="380.6" rx="4" ry="7.5" transform="rotate(-21.2 1532 380.6)" fill="url(#g21)" stroke="#000" stroke-width="2" />
<ellipse cx="1532" cy="414.6" rx="4" ry="7.5" transform="rotate(-21.2 1532 414.6)" fill="url(#g22)" stroke="#000" stroke-width="2" />
<path d="M1550.3 399.3L1556.3 404.3L1560.4 404.3L1563.4 410.3L1563.4 426.4L1556.3 429.4L1552.3 425.4L1548.3 416.3L1547.3 405.3Z" fill="url(#g23)" stroke="#000" stroke-width="2" stroke-linejoin="round" />
<path d="M1888 419.2L1899.2 414.4L1907.2 419.2L1921.6 443.2L1921.6 491.2L1910.4 492.8L1910.4 446.4L1899.2 428.8Z" fill="#8c8c8c" stroke="#000" stroke-width="2.2" stroke-linejoin="round" />
<path d="M1899.2 414.4L1907.2 419.2L1921.6 443.2L1921.6 491.2L1910.4 492.8L1910.4 446.4L1904 430.4Z" fill="#a2a2a2" stroke="#000" stroke-width="2.2" stroke-linejoin="round" />
<path d="M1876.8 422.4L1888 419.2L1904 432L1907.2 452.8L1907.2 492.8L1900.8 492.8L1900.8 472L1894.4 451.2L1875.2 438.4Z" fill="#8a8a8a" stroke="#000" stroke-width="2.2" stroke-linejoin="round" />
<ellipse cx="1894.4" cy="435.5" rx="3.5" ry="6.5" transform="rotate(-21.2 1894.4 435.5)" fill="url(#g24)" stroke="#000" stroke-width="2" />
<path d="M1801.6 468L1888 441.6L1894.4 451.2L1904 473.6L1827.2 500.8L1817.6 500.8L1808 481.6Z" fill="url(#g25)" stroke="#000" stroke-width="2.2" stroke-linejoin="round" />
<path d="M1827.2 500.8L1904 473.6L1905.6 492.8L1849.6 513.6L1828.8 512Z" fill="#8d8d8d" stroke="#000" stroke-width="2.2" stroke-linejoin="round" />
<path d="M1774.4 404.8L1779.2 417.6L1792 425.6L1816 428.8L1876 407.2L1876 442.4L1814.4 464.8L1792 460.8L1776 441.6Z" fill="#a4a4a4" stroke="#000" stroke-width="2.2" stroke-linejoin="round" />
<path d="M1774.4 404.8L1779.2 417.6L1792 425.6L1816 428.8L1814.4 464.8L1792 460.8L1776 441.6Z" fill="url(#g27)" stroke="#000" stroke-width="2.2" stroke-linejoin="round" />
<path d="M1773.6 403.2L1834.4 378.9L1852.8 381.6L1867.2 388.8L1876 400L1876 407.2L1816 428.8L1792 425.6L1779.2 417.6Z" fill="url(#g26)" stroke="#000" stroke-width="2.2" stroke-linejoin="round" />
<ellipse cx="1797.6" cy="415.2" rx="13.5" ry="7" fill="#b9b9b9" stroke="#000" stroke-width="2.2"/>
<ellipse cx="1852" cy="394.4" rx="13.5" ry="7" fill="#b9b9b9" stroke="#000" stroke-width="2.2"/>
<path d="M1834.6 547.5A22.6 33 32.5 0 1 1833.2 507.5A22.6 33 32.5 0 1 1870.1 491.9L1904.6 513.9A22.6 33 32.5 0 1 1906 553.9A22.6 33 32.5 0 1 1869.2 569.6Z" fill="url(#g28)" stroke="#000" stroke-width="2.4" stroke-linejoin="round" />
<path d="M1864 508C1870 501 1880 496 1890 494L1920 493L1968 520L1904 544Z" fill="#5b5f63" stroke="#000" stroke-width="2.4" stroke-linejoin="round"/>
<path d="M1852 536C1852.4 524 1856 516 1864 508L1904 544L1905 615L1858 584C1854 568 1852 552 1852 536Z" fill="url(#g29)" stroke="#000" stroke-width="2.4" stroke-linejoin="round"/>
<path d="M1904 544L1968 520L1968 591L1905 615Z" fill="url(#g30)" stroke="#000" stroke-width="2.4" stroke-linejoin="round" />
<path d="M1867.2 512.4L1907 549L1967.6 525.6" fill="none" stroke="#000" stroke-width="1.6" />
<line x1="1908" y1="550.4" x2="1908.2" y2="613" stroke="#000" stroke-width="1.6" />
<path d="M1718.4 444L1728.8 429.6L1794.4 467.2L1813.6 512.8L1814.4 568.8L1832.8 573.6L1836 586.4L1829.6 596L1812 605.6L1756 573.6L1727.2 472.8L1719.2 456.8Z" fill="#7e7e7e" stroke="#000" stroke-width="2.2" stroke-linejoin="round" />
<path d="M1728.8 429.6L1736.8 426.4L1802.4 464.8L1794.4 467.2Z" fill="#8e8e8e" stroke="#000" stroke-width="2.2" stroke-linejoin="round" />
<path d="M1794.4 467.2L1802.4 464.8L1824.8 511.2L1813.6 512.8Z" fill="#a8a8a8" stroke="#000" stroke-width="2.2" stroke-linejoin="round" />
<path d="M1813.6 512.8L1824.8 511.2L1826.4 564L1814.4 568.8Z" fill="#a0a0a0" stroke="#000" stroke-width="2.2" stroke-linejoin="round" />
<ellipse cx="1724.8" cy="450.4" rx="3.5" ry="6.5" transform="rotate(-21.2 1724.8 450.4)" fill="url(#g31)" stroke="#000" stroke-width="2" />
<ellipse cx="1816" cy="583.2" rx="3.5" ry="6.5" transform="rotate(-21.2 1816 583.2)" fill="url(#g32)" stroke="#000" stroke-width="2" />
<path d="M1836.9 586A4.8 9 -21.2 0 0 1838.1 575.9A4.8 9 -21.2 0 0 1830.3 569.2L1823.1 571.6A4.8 9 -21.2 0 0 1821.9 581.7A4.8 9 -21.2 0 0 1829.7 588.4Z" fill="url(#g33)" stroke="#000" stroke-width="2" stroke-linejoin="round" />
<ellipse cx="1826.4" cy="580" rx="4.8" ry="9" transform="rotate(-21.2 1826.4 580)" fill="#8a8a8a" stroke="#000" stroke-width="2" />
<path d="M1834.4 570.4L1855.2 562.4L1856.8 573.6L1836 581.6Z" fill="#9a9a9a" stroke="#000" stroke-width="2.2" stroke-linejoin="round" />
<path d="M1797.5 574.4A34.7 65 -21.2 0 0 1806.3 501.3A34.7 65 -21.2 0 0 1750.5 453.2L1746.5 454.8A34.7 65 -21.2 0 0 1737.7 527.9A34.7 65 -21.2 0 0 1793.5 576Z" fill="url(#g34)" stroke="#000" stroke-width="2.2" stroke-linejoin="round" />
<ellipse cx="1770" cy="515.4" rx="34.7" ry="65" transform="rotate(-21.2 1770 515.4)" fill="#707070" stroke="#000" stroke-width="2.4" />
<path d="M1791.7 571.3A32 60 -21.2 0 0 1799.8 503.8A32 60 -21.2 0 0 1748.3 459.4L1740.3 462.5A32 60 -21.2 0 0 1732.2 530A32 60 -21.2 0 0 1783.7 574.4Z" fill="url(#g35)" stroke="#000" stroke-width="2.2" stroke-linejoin="round" />
<ellipse cx="1762" cy="518.5" rx="32" ry="60" transform="rotate(-21.2 1762 518.5)" fill="#5c5c5c" stroke="#000" stroke-width="2.8" />
<path d="M1783 572.5A30.9 58 -21.2 0 0 1790.8 507.3A30.9 58 -21.2 0 0 1741 464.4L1735 466.7A30.9 58 -21.2 0 0 1727.2 532A30.9 58 -21.2 0 0 1777 574.9Z" fill="url(#g36)" stroke="#000" stroke-width="2.2" stroke-linejoin="round" />
<ellipse cx="1756" cy="520.8" rx="30.9" ry="58" transform="rotate(-21.2 1756 520.8)" fill="#4a4a4a" stroke="#000" stroke-width="2.4" />
<path d="M1775.5 571.1A28.8 54 -21.2 0 0 1782.9 510.4A28.8 54 -21.2 0 0 1736.5 470.4L1731.5 472.4A28.8 54 -21.2 0 0 1724.1 533.1A28.8 54 -21.2 0 0 1770.5 573.1Z" fill="url(#g37)" stroke="#000" stroke-width="2.2" stroke-linejoin="round" />
<path d="M1771.1 574.5A29.6 55.5 -21.2 0 0 1778.6 512A29.6 55.5 -21.2 0 0 1730.9 471L1726.9 472.5A29.6 55.5 -21.2 0 0 1719.4 535A29.6 55.5 -21.2 0 0 1767.1 576Z" fill="url(#g38)" stroke="#000" stroke-width="2.2" stroke-linejoin="round" />
<ellipse cx="1747" cy="524.3" rx="29.6" ry="55.5" transform="rotate(-21.2 1747 524.3)" fill="url(#g39)" stroke="#000" stroke-width="2.6" />
<ellipse cx="1734" cy="504" rx="4.3" ry="8" transform="rotate(-21.2 1734 504)" fill="url(#g40)" stroke="#000" stroke-width="2" />
<ellipse cx="1760" cy="521" rx="4.3" ry="8" transform="rotate(-21.2 1760 521)" fill="url(#g41)" stroke="#000" stroke-width="2" />
<ellipse cx="1747" cy="539" rx="4.3" ry="8" transform="rotate(-21.2 1747 539)" fill="url(#g42)" stroke="#000" stroke-width="2" />
<ellipse cx="1730" cy="542" rx="4.3" ry="8" transform="rotate(-21.2 1730 542)" fill="url(#g43)" stroke="#000" stroke-width="2" />
<ellipse cx="1764" cy="562" rx="4.3" ry="8" transform="rotate(-21.2 1764 562)" fill="url(#g44)" stroke="#000" stroke-width="2" />
<ellipse cx="1488" cy="414.6" rx="31.2" ry="58.5" transform="rotate(-21.2 1488 414.6)" fill="none" stroke="#000" stroke-width="6.2" />
<ellipse cx="1488" cy="414.6" rx="31.2" ry="58.5" transform="rotate(-21.2 1488 414.6)" fill="none" stroke="#333" stroke-width="2" />
<path d="M1460.9 495.9A35.2 66 -21.2 0 0 1469.8 421.7A35.2 66 -21.2 0 0 1413.1 372.9L1372.1 388.8A35.2 66 -21.2 0 0 1363.2 463A35.2 66 -21.2 0 0 1419.9 511.8Z" fill="url(#g45)" stroke="#000" stroke-width="2.6" stroke-linejoin="round" />
<path d="M1396.1 379.4A35.2 66 -21.2 0 1 1452.8 428.3A35.2 66 -21.2 0 1 1443.9 502.5" fill="none" stroke="#000" stroke-width="3" />
<path d="M1357 441.2A35.2 66 -21.2 0 1 1371 389.2" fill="none" stroke="#000" stroke-width="2.4" />
<path d="M1418.7 512.2A35.2 66 -21.2 0 1 1393.2 505.6" fill="none" stroke="#000" stroke-width="2.4" />
<path d="M1418.8 509A33.6 63 -21.2 0 0 1427.3 438.1A33.6 63 -21.2 0 0 1373.2 391.6L1335.2 406.3A33.6 63 -21.2 0 0 1326.7 477.2A33.6 63 -21.2 0 0 1380.8 523.8Z" fill="url(#g46)" stroke="none" stroke-width="0" />
<path d="M1373.2 391.6L1335.2 406.3A33.6 63 -21.2 0 0 1326.7 477.2A33.6 63 -21.2 0 0 1380.8 523.8L1418.8 509" fill="none" stroke="#000" stroke-width="2.6" stroke-linejoin="round" />
<ellipse cx="1358" cy="465" rx="33.6" ry="63" transform="rotate(-21.2 1358 465)" fill="#1a1a1a" stroke="#000" stroke-width="2.6" />
<path d="M1379.7 521A32 60 -21.2 0 0 1387.8 453.5A32 60 -21.2 0 0 1336.3 409.1L1330.3 411.4A32 60 -21.2 0 0 1322.2 478.9A32 60 -21.2 0 0 1373.7 523.3Z" fill="url(#g47)" stroke="#000" stroke-width="2.2" stroke-linejoin="round" />
<path d="M1373.2 521.9A31.2 58.5 -21.2 0 0 1381.1 456.1A31.2 58.5 -21.2 0 0 1330.8 412.8L1326.3 414.6A31.2 58.5 -21.2 0 0 1318.4 480.4A31.2 58.5 -21.2 0 0 1368.7 523.6Z" fill="url(#g48)" stroke="#000" stroke-width="2" stroke-linejoin="round" />
<path d="M1368.1 522.2A30.4 57 -21.2 0 0 1375.9 458.1A30.4 57 -21.2 0 0 1326.9 416L1323.4 417.3A30.4 57 -21.2 0 0 1315.6 481.5A30.4 57 -21.2 0 0 1364.6 523.6Z" fill="url(#g49)" stroke="#000" stroke-width="2.2" stroke-linejoin="round" />
<ellipse cx="1344" cy="470.5" rx="30.4" ry="57" transform="rotate(-21.2 1344 470.5)" fill="#151515" stroke="#000" stroke-width="2.4" />
<ellipse cx="1344.5" cy="470.3" rx="27.7" ry="52" transform="rotate(-21.2 1344.5 470.3)" fill="url(#g50)" stroke="#000" stroke-width="2" />
<path d="M1372.8 509.7A26.7 50 -21.2 0 1 1338.1 504.8A26.7 50 -21.2 0 1 1316.5 449.1A26.7 50 -21.2 0 1 1338.8 422.1" fill="none" stroke="#f4f6f8" stroke-width="3.6" />
<path d="M1373.1 510.9A26.1 49 -21.2 0 1 1339.2 498.6A26.1 49 -21.2 0 1 1321.4 445.4A26.1 49 -21.2 0 1 1343.1 421.4" fill="none" stroke="#000" stroke-width="2.4" />
<path d="M1371.6 511.2A25.6 48 -21.2 0 1 1340.7 494.8A25.6 48 -21.2 0 1 1324.7 447.2A25.6 48 -21.2 0 1 1341.3 420.8" fill="none" stroke="#7fd6c4" stroke-width="1.2" />
<path d="M1377.9 505.9A24.5 46 -21.2 0 1 1340 463.4A24.5 46 -21.2 0 1 1353 418.4" fill="none" stroke="#000" stroke-width="2.6" />
<line x1="1327" y1="477" x2="1368" y2="461.1" stroke="#4b8ee3" stroke-width="2" stroke-dasharray="60 6" stroke-dashoffset="0"/>
<path d="M1319.5 528.8A24.3 45.5 -21.2 0 0 1325.6 477.6A24.3 45.5 -21.2 0 0 1286.5 443.9L1270.5 450.1A24.3 45.5 -21.2 0 0 1264.4 501.3A24.3 45.5 -21.2 0 0 1303.5 535Z" fill="url(#g51)" stroke="#000" stroke-width="2.4" stroke-linejoin="round" />
<path d="M1302.9 533.6A23.5 44 -21.2 0 0 1308.9 484.1A23.5 44 -21.2 0 0 1271.1 451.5L1246.1 461.2A23.5 44 -21.2 0 0 1240.1 510.7A23.5 44 -21.2 0 0 1277.9 543.3Z" fill="url(#g52)" stroke="#000" stroke-width="2.4" stroke-linejoin="round" />
<path d="M1284 452L1291 449L1293 456.5L1300 456L1306 462L1298 466L1290 463Z" fill="#c4943a" stroke="#000" stroke-width="2" />
<path d="M1318 494L1326 491L1328 509L1320 512Z" fill="#c4943a" stroke="none" stroke-width="0" />
<path d="M1266.5 463L1284.5 459L1299.5 480L1281.5 489Z" fill="#1d1a12" stroke="#000" stroke-width="2.2" />
<path d="M1272 470L1282 466L1288 480L1279 484Z" fill="#b59a55" stroke="none" stroke-width="0" />
<line x1="1275" y1="468" x2="1281" y2="485" stroke="#8fd8c8" stroke-width="1.5" />
<path d="M1313.5 500.5L1319.5 498.5L1320.5 512.5L1314.5 514.5Z" fill="#2a2416" stroke="#000" stroke-width="1.8" />
<path d="M1278.1 543.7A23.7 44.5 -21.2 0 0 1284.1 493.7A23.7 44.5 -21.2 0 0 1245.9 460.8L1241.4 462.5A23.7 44.5 -21.2 0 0 1235.4 512.6A23.7 44.5 -21.2 0 0 1273.6 545.5Z" fill="url(#g53)" stroke="#000" stroke-width="2.2" stroke-linejoin="round" />
<path d="M1273.4 545A23.5 44 -21.2 0 0 1279.4 495.5A23.5 44 -21.2 0 0 1241.6 463L1229.1 467.8A23.5 44 -21.2 0 0 1223.1 517.3A23.5 44 -21.2 0 0 1260.9 549.9Z" fill="url(#g54)" stroke="#000" stroke-width="2.4" stroke-linejoin="round" />
<ellipse cx="1245" cy="508.8" rx="23.5" ry="44" transform="rotate(-21.2 1245 508.8)" fill="url(#g55)" stroke="#000" stroke-width="2.4" />
<path d="M1245.6 477A19.2 36 -21.2 0 1 1265.9 507.5A19.2 36 -21.2 0 1 1263.2 539.1" fill="none" stroke="#7fd6c4" stroke-width="1.3" />
<path d="M1245.6 474.4A20.8 39 -21.2 0 1 1267.6 507.4A20.8 39 -21.2 0 1 1264.6 541.6" fill="none" stroke="#7fd6c4" stroke-width="1.3" />
<path d="M1255.7 536.4A15.7 29.5 -21.2 0 0 1259.7 503.2A15.7 29.5 -21.2 0 0 1234.3 481.3L1208.3 491.4A15.7 29.5 -21.2 0 0 1204.3 524.6A15.7 29.5 -21.2 0 0 1229.7 546.4Z" fill="url(#g56)" stroke="#000" stroke-width="2.4" stroke-linejoin="round" />
<ellipse cx="1219" cy="518.9" rx="15.7" ry="29.5" transform="rotate(-21.2 1219 518.9)" fill="#14110a" stroke="#000" stroke-width="2.4" />
<path d="M1211.6 492.8A14.7 27.5 -21.2 0 1 1230.7 509.3A14.7 27.5 -21.2 0 1 1234.5 538.5" fill="none" stroke="#7fd6c4" stroke-width="1.2" />
<ellipse cx="1219" cy="518.9" rx="12.3" ry="23" transform="rotate(-21.2 1219 518.9)" fill="none" stroke="#8a6d2c" stroke-width="1.6" stroke-dasharray="4 4"/>
<ellipse cx="1219.9" cy="518.6" rx="9.9" ry="18.5" transform="rotate(-21.2 1219.9 518.6)" fill="#9a7c35" stroke="#000" stroke-width="1.8" />
<ellipse cx="1220.9" cy="518.2" rx="8" ry="15" transform="rotate(-21.2 1220.9 518.2)" fill="#0a0a0a" stroke="#000" stroke-width="1.5" />
<path d="M1214 535.7A7.4 13.8 -21.2 0 0 1215.9 520.1A7.4 13.8 -21.2 0 0 1204 509.9L1180 519.3A7.4 13.8 -21.2 0 0 1178.1 534.8A7.4 13.8 -21.2 0 0 1190 545Z" fill="url(#g57)" stroke="#000" stroke-width="2" stroke-linejoin="round" />
<ellipse cx="1185" cy="532.1" rx="7.4" ry="13.8" transform="rotate(-21.2 1185 532.1)" fill="#050505" stroke="#000" stroke-width="2" />
<path d="M1000.5 611A3.6 6.8 -21.2 0 0 1001.4 603.3A3.6 6.8 -21.2 0 0 995.5 598.3L975.5 606.1A3.6 6.8 -21.2 0 0 974.6 613.7A3.6 6.8 -21.2 0 0 980.5 618.7Z" fill="url(#g58)" stroke="#000" stroke-width="2.2" stroke-linejoin="round" />
<path d="M982 622.6A5.9 11 -21.2 0 0 983.5 610.3A5.9 11 -21.2 0 0 974 602.1L966.5 605A5.9 11 -21.2 0 0 965 617.4A5.9 11 -21.2 0 0 974.5 625.6Z" fill="url(#g59)" stroke="#000" stroke-width="2.2" stroke-linejoin="round" />
<ellipse cx="970.5" cy="615.3" rx="5.9" ry="11" transform="rotate(-21.2 970.5 615.3)" fill="#8b8878" stroke="#000" stroke-width="2.2" />
<line x1="969.5" y1="609.3" x2="972.5" y2="622.3" stroke="#7fe0e4" stroke-width="3" />
<path d="M1032.4 611.7A10.1 19 -21.2 0 0 1035 590.3A10.1 19 -21.2 0 0 1018.6 576.3L1016.1 577.2A10.1 19 -21.2 0 0 1013.5 598.6A10.1 19 -21.2 0 0 1029.9 612.7Z" fill="url(#g60)" stroke="#000" stroke-width="2.4" stroke-linejoin="round" />
<ellipse cx="1023" cy="594.9" rx="10.1" ry="19" transform="rotate(-21.2 1023 594.9)" fill="#8e8e8e" stroke="#000" stroke-width="2.6" />
<ellipse cx="1023.9" cy="594.6" rx="3.2" ry="6" transform="rotate(-21.2 1023.9 594.6)" fill="#1c1c1c" stroke="#000" stroke-width="2" />
<path d="M1097.8 590.6A12.3 23 -21.2 0 0 1100.9 564.7A12.3 23 -21.2 0 0 1081.2 547.7L1068.7 552.6A12.3 23 -21.2 0 0 1065.6 578.4A12.3 23 -21.2 0 0 1085.3 595.4Z" fill="url(#g61)" stroke="#000" stroke-width="2.4" stroke-linejoin="round" />
<path d="M1086.8 599.2A14.4 27 -21.2 0 0 1090.4 568.8A14.4 27 -21.2 0 0 1067.2 548.8L1059.2 551.9A14.4 27 -21.2 0 0 1055.6 582.3A14.4 27 -21.2 0 0 1078.8 602.3Z" fill="url(#g62)" stroke="#000" stroke-width="2.4" stroke-linejoin="round" />
<ellipse cx="1069" cy="577.1" rx="14.4" ry="27" transform="rotate(-21.2 1069 577.1)" fill="#8d712f" stroke="#000" stroke-width="2.4" />
<path d="M1077.5 599A12.5 23.5 -21.2 0 0 1080.7 572.6A12.5 23.5 -21.2 0 0 1060.5 555.2L1047.5 560.2A12.5 23.5 -21.2 0 0 1044.3 586.7A12.5 23.5 -21.2 0 0 1064.5 604.1Z" fill="url(#g63)" stroke="#000" stroke-width="2.4" stroke-linejoin="round" />
<ellipse cx="1056" cy="582.1" rx="12.5" ry="23.5" transform="rotate(-21.2 1056 582.1)" fill="#9b7d35" stroke="#000" stroke-width="2.6" />
<ellipse cx="1056.9" cy="581.8" rx="9.9" ry="18.5" transform="rotate(-21.2 1056.9 581.8)" fill="#6b5520" stroke="#000" stroke-width="2.2" />
<ellipse cx="1058.8" cy="581.1" rx="6.9" ry="13" transform="rotate(-21.2 1058.8 581.1)" fill="#161208" stroke="#000" stroke-width="2" />
<path d="M1165 591.9A25.9 48.5 -21.2 0 0 1171.6 537.3A25.9 48.5 -21.2 0 0 1130 501.4L1124.5 503.6A25.9 48.5 -21.2 0 0 1117.9 558.1A25.9 48.5 -21.2 0 0 1159.5 594Z" fill="url(#g64)" stroke="#000" stroke-width="2.4" stroke-linejoin="round" />
<path d="M1161.8 591.5A25.1 47 -21.2 0 0 1168.2 538.6A25.1 47 -21.2 0 0 1127.8 503.9L1125 505A25.1 47 -21.2 0 0 1118.6 557.9A25.1 47 -21.2 0 0 1159 592.6Z" fill="url(#g65)" stroke="#000" stroke-width="2.4" stroke-linejoin="round" />
<ellipse cx="1142" cy="548.8" rx="25.1" ry="47" transform="rotate(-21.2 1142 548.8)" fill="#9b7d35" stroke="#000" stroke-width="2.6" />
<ellipse cx="1142" cy="548.8" rx="23.2" ry="43.5" transform="rotate(-21.2 1142 548.8)" fill="none" stroke="#000" stroke-width="2" />
<path d="M1156.5 586.1A21.3 40 -21.2 0 0 1161.9 541.1A21.3 40 -21.2 0 0 1127.5 511.5L1114 516.7A21.3 40 -21.2 0 0 1108.6 561.7A21.3 40 -21.2 0 0 1143 591.3Z" fill="url(#g66)" stroke="#000" stroke-width="2.4" stroke-linejoin="round" />
<ellipse cx="1128.5" cy="554" rx="21.3" ry="40" transform="rotate(-21.2 1128.5 554)" fill="#a5863c" stroke="#000" stroke-width="2.8" />
<ellipse cx="1129.4" cy="553.7" rx="17.6" ry="33" transform="rotate(-21.2 1129.4 553.7)" fill="url(#g67)" stroke="#000" stroke-width="2.6" />
<g clip-path="url(#c68)">
<ellipse cx="1143.4" cy="548.2" rx="16" ry="30" transform="rotate(-21.2 1143.4 548.2)" fill="#fff" stroke="#000" stroke-width="2.4" />
</g>
<line x1="1130" y1="553.4" x2="1178" y2="534.8" stroke="#4b8ee3" stroke-width="1.8" stroke-dasharray="26 5 5 5" stroke-dashoffset="0"/>
<line x1="1094" y1="567.4" x2="1130" y2="553.4" stroke="#4b8ee3" stroke-width="1.8" stroke-dasharray="26 5 5 5" stroke-dashoffset="0"/>
<line x1="1032" y1="591.5" x2="1062" y2="579.8" stroke="#4b8ee3" stroke-width="1.8" stroke-dasharray="40 5" stroke-dashoffset="0"/>
<line x1="1003" y1="602.7" x2="1022" y2="595.3" stroke="#4b8ee3" stroke-width="1.8" stroke-dasharray="40 5" stroke-dashoffset="0"/>
<line x1="943" y1="626" x2="973" y2="614.3" stroke="#4b8ee3" stroke-width="1.8" stroke-dasharray="16 4 4 4" stroke-dashoffset="0"/>
<path d="M1553.3 656.8A28.5 53.5 -21.2 0 0 1560.6 596.6A28.5 53.5 -21.2 0 0 1514.7 557L1505.7 560.5A28.5 53.5 -21.2 0 0 1498.4 620.7A28.5 53.5 -21.2 0 0 1544.3 660.3Z" fill="url(#g69)" stroke="#000" stroke-width="2.4" stroke-linejoin="round" />
<path d="M1544.3 660.3A28.5 53.5 -21.2 0 0 1551.6 600.1A28.5 53.5 -21.2 0 0 1505.7 560.5L1450.7 581.8A28.5 53.5 -21.2 0 0 1443.4 642A28.5 53.5 -21.2 0 0 1489.3 681.6Z" fill="url(#g70)" stroke="#000" stroke-width="2.6" stroke-linejoin="round" />
<ellipse cx="1470" cy="631.7" rx="28.5" ry="53.5" transform="rotate(-21.2 1470 631.7)" fill="#3b7f1f" stroke="#000" stroke-width="2.6" />
<path d="M1482.4 666.6A19.7 37 -21.2 0 0 1487.4 625A19.7 37 -21.2 0 0 1455.6 597.6L1432.6 606.5A19.7 37 -21.2 0 0 1427.6 648.1A19.7 37 -21.2 0 0 1459.4 675.5Z" fill="url(#g71)" stroke="#000" stroke-width="2.6" stroke-linejoin="round" />
<ellipse cx="1446" cy="641" rx="19.7" ry="37" transform="rotate(-21.2 1446 641)" fill="#3b7f1f" stroke="#000" stroke-width="2.6" />
<path d="M1420.2 629.3L1437.3 622.8L1454.3 631.8L1454.3 664.5L1437.8 666.5L1437.8 639.9Z" fill="#e6e6e6" stroke="#000" stroke-width="2.4" stroke-linejoin="round"/>
<path d="M1409.1 651.9L1437.8 640.4L1454.3 632.3L1454.3 664.5L1437.8 666.5L1436.8 669L1409.1 677Z" fill="#e3e3e3" stroke="#000" stroke-width="2.4" stroke-linejoin="round"/>
<path d="M1391.6 643.4L1420.2 631.8L1437.8 640.4L1409.1 651.9Z" fill="#e7e7e7" stroke="#000" stroke-width="2.4" stroke-linejoin="round"/>
<path d="M1391.6 643.4L1409.1 651.9L1409.1 677L1391.6 667Z" fill="#dddddd" stroke="#000" stroke-width="2.4" stroke-linejoin="round"/>
<path d="M1420.2 631.8L1420.2 629.3L1437.8 639.4" fill="none" stroke="#000" stroke-width="2.6" stroke-linejoin="round"/>
<path d="M1370.8 731.9A30.7 57.5 -21.2 0 0 1378.6 667.1A30.7 57.5 -21.2 0 0 1329.2 624.6L1322.2 627.3A30.7 57.5 -21.2 0 0 1314.4 692A30.7 57.5 -21.2 0 0 1363.8 734.6Z" fill="url(#g72)" stroke="#000" stroke-width="2.4" stroke-linejoin="round" />
<path d="M1366 732.1A29.9 56 -21.2 0 0 1373.7 669.1A29.9 56 -21.2 0 0 1325.5 627.7L1322.8 628.7A29.9 56 -21.2 0 0 1315.1 691.8A29.9 56 -21.2 0 0 1363.2 733.2Z" fill="url(#g73)" stroke="#000" stroke-width="2.4" stroke-linejoin="round" />
<ellipse cx="1343" cy="681" rx="29.9" ry="56" transform="rotate(-21.2 1343 681)" fill="#9b7d35" stroke="#000" stroke-width="2.6" />
<ellipse cx="1340.2" cy="682" rx="27.7" ry="52" transform="rotate(-21.2 1340.2 682)" fill="#a08238" stroke="#000" stroke-width="2.2" />
<path d="M1357.6 726.8A25.6 48 -21.2 0 0 1364.1 672.8A25.6 48 -21.2 0 0 1322.8 637.3L1310.6 642A25.6 48 -21.2 0 0 1304.1 696A25.6 48 -21.2 0 0 1345.4 731.5Z" fill="url(#g74)" stroke="#000" stroke-width="2.4" stroke-linejoin="round" />
<ellipse cx="1328" cy="686.8" rx="25.6" ry="48" transform="rotate(-21.2 1328 686.8)" fill="#a5863c" stroke="#000" stroke-width="3" />
<ellipse cx="1328.9" cy="686.4" rx="21.3" ry="40" transform="rotate(-21.2 1328.9 686.4)" fill="url(#g75)" stroke="#000" stroke-width="3.2" />
<g clip-path="url(#c76)">
<ellipse cx="1348.5" cy="678.8" rx="19.2" ry="36" transform="rotate(-21.2 1348.5 678.8)" fill="#fff" stroke="#000" stroke-width="2.4" />
</g>
<line x1="1172" y1="747.3" x2="1335" y2="684.1" stroke="#4b8ee3" stroke-width="2" stroke-dasharray="70 8 14 8" stroke-dashoffset="0"/>
<line x1="1359" y1="733" x2="1380" y2="741" stroke="#4b8ee3" stroke-width="1.8" stroke-dasharray="40 5" stroke-dashoffset="0"/>
<path d="M692 651L725 627.5L733.5 621L733 616L738 610.5L865 561.5L875 568L883 565.5L897 563L927.5 581.3L929 585.5L919 588L924.5 596L938.8 609L942.8 620L945.2 636L949.2 648.8L957.2 644.8L960.4 647.2L960.4 684L950 694.4L949.2 699.2L942 701.6L940.4 717.6L813.5 770.5L809 770.5L800 765.5L795.5 763.4L756.5 780.5L716.6 753.5L692 699.5Z" fill="url(#g77)" stroke="none" stroke-width="0" />
<path d="M733.5 621L733 616L738 610.5L865 561.5L875 568L742 618Z" fill="#d4dada" stroke="none" stroke-width="0" />
<path d="M868 585L897 566L927 583L920 590L942 618L949 649L958 647L959 684L941 716L900 733L882 690L868 650Z" fill="#f0f0f0" stroke="none" stroke-width="0" opacity="0.8"/>
<path d="M766 600.8L867.6 586.4L868.4 623.2L862 644L801.2 668L775.6 629.6Z" fill="#d4d4d4" stroke="none" stroke-width="0" opacity="0.85"/>
<path d="M798 692L894 688.8L938.8 716L814 767.2L794.8 748Z" fill="#cfcfcf" stroke="none" stroke-width="0" opacity="0.9"/>
<path d="M799 701.3A13.3 25 -21.2 0 0 802.4 673.2A13.3 25 -21.2 0 0 781 654.7L732 673.7A13.3 25 -21.2 0 0 728.6 701.8A13.3 25 -21.2 0 0 750 720.3Z" fill="#c9c9c9" stroke="none" stroke-width="0" stroke-linejoin="round" opacity="0.9"/>
<ellipse cx="741" cy="697" rx="11.2" ry="21" transform="rotate(-21.2 741 697)" fill="#d6d6d6" stroke="#c0c0c0" stroke-width="1" />
<path d="M722.8 632.8L756.4 653.6L782 709.6L786.8 748" fill="none" stroke="#f6f6f6" stroke-width="2.6" />
<path d="M723.6 632L757.7 653L783.3 709.3L788.1 748" fill="none" stroke="#74e0e8" stroke-width="1.2" />
<path d="M779.6 711.2L780.4 760.8" fill="none" stroke="#74e0e8" stroke-width="1.2" />
<line x1="767.6" y1="645.6" x2="914.8" y2="588.5" stroke="#74e0e8" stroke-width="1.8" opacity="0.85"/>
<line x1="769.2" y1="650.4" x2="911.6" y2="595.2" stroke="#74e0e8" stroke-width="1.3" opacity="0.85"/>
<line x1="807.6" y1="639.2" x2="919.6" y2="595.8" stroke="#74e0e8" stroke-width="1.3" opacity="0.85"/>
<line x1="809.2" y1="644" x2="926" y2="598.7" stroke="#74e0e8" stroke-width="1.8" opacity="0.85"/>
<line x1="862" y1="655.2" x2="935.6" y2="626.7" stroke="#74e0e8" stroke-width="1.4" opacity="0.85"/>
<line x1="830" y1="666.4" x2="936.4" y2="625.1" stroke="#74e0e8" stroke-width="1.8" opacity="0.85"/>
<line x1="826.8" y1="681.6" x2="940.4" y2="637.5" stroke="#74e0e8" stroke-width="1.4" opacity="0.85"/>
<line x1="790" y1="707.2" x2="940.4" y2="648.9" stroke="#74e0e8" stroke-width="1.5" opacity="0.85"/>
<line x1="798" y1="712" x2="878" y2="681" stroke="#74e0e8" stroke-width="1.2" opacity="0.85"/>
<line x1="830" y1="746.4" x2="938.8" y2="704.2" stroke="#74e0e8" stroke-width="1.6" opacity="0.85"/>
<line x1="862" y1="748" x2="940.4" y2="717.6" stroke="#74e0e8" stroke-width="1.3" opacity="0.85"/>
<line x1="700.4" y1="654.4" x2="724.4" y2="645.1" stroke="#74e0e8" stroke-width="1.2" opacity="0.85"/>
<line x1="738.8" y1="615.2" x2="865.2" y2="566.2" stroke="#74e0e8" stroke-width="1.2" opacity="0.85"/>
<line x1="814" y1="767.2" x2="910" y2="730" stroke="#74e0e8" stroke-width="1.3" opacity="0.85"/>
<path d="M798 650.4L862 628L862 660L814 677.6Z" fill="#e6e6e6" stroke="none" stroke-width="0" opacity="0.9"/>
<line x1="815.6" y1="663.2" x2="862" y2="644.8" stroke="#ffffff" stroke-width="1.8" />
<ellipse cx="807.9" cy="665.6" rx="7.5" ry="14" transform="rotate(-21.2 807.9 665.6)" fill="none" stroke="#74e0e8" stroke-width="1.1" />
<path d="M692 651L725 627.5L733.5 621L733 616L738 610.5L865 561.5L875 568L883 565.5L897 563L927.5 581.3L929 585.5L919 588L924.5 596L938.8 609L942.8 620L945.2 636L949.2 648.8L957.2 644.8L960.4 647.2L960.4 684L950 694.4L949.2 699.2L942 701.6L940.4 717.6L813.5 770.5L809 770.5L800 765.5L795.5 763.4L756.5 780.5L716.6 753.5L692 699.5Z" fill="none" stroke="#000" stroke-width="2.5" stroke-linejoin="round"/>
<path d="M733.5 621L740 621L875 568.5" fill="none" stroke="#000" stroke-width="2.3" stroke-linejoin="round"/>
<path d="M921.5 772.5L954.5 749L963 742.5L962.5 737.5L967.5 732L1094.5 683L1104.5 689.5L1112.5 687L1126.5 684.5L1157 702.8L1158.5 707L1148.5 709.5L1154 717.5L1168.3 730.5L1172.3 741.5L1174.7 757.5L1178.7 770.3L1186.7 766.3L1189.9 768.7L1189.9 805.5L1179.5 815.9L1178.7 820.7L1171.5 823.1L1169.9 839.1L1043 892L1038.5 892L1029.5 887L1025 884.9L986 902L946.1 875L921.5 821Z" fill="url(#g78)" stroke="none" stroke-width="0" />
<path d="M963 742.5L962.5 737.5L967.5 732L1094.5 683L1104.5 689.5L971.5 739.5Z" fill="#d4dada" stroke="none" stroke-width="0" />
<path d="M1097.5 706.5L1126.5 687.5L1156.5 704.5L1149.5 711.5L1171.5 739.5L1178.5 770.5L1187.5 768.5L1188.5 805.5L1170.5 837.5L1129.5 854.5L1111.5 811.5L1097.5 771.5Z" fill="#f0f0f0" stroke="none" stroke-width="0" opacity="0.8"/>
<path d="M995.5 722.3L1097.1 707.9L1097.9 744.7L1091.5 765.5L1030.7 789.5L1005.1 751.1Z" fill="#d4d4d4" stroke="none" stroke-width="0" opacity="0.85"/>
<path d="M1027.5 813.5L1123.5 810.3L1168.3 837.5L1043.5 888.7L1024.3 869.5Z" fill="#cfcfcf" stroke="none" stroke-width="0" opacity="0.9"/>
<path d="M1028.5 822.8A13.3 25 -21.2 0 0 1031.9 794.7A13.3 25 -21.2 0 0 1010.5 776.2L961.5 795.2A13.3 25 -21.2 0 0 958.1 823.3A13.3 25 -21.2 0 0 979.5 841.8Z" fill="#c9c9c9" stroke="none" stroke-width="0" stroke-linejoin="round" opacity="0.9"/>
<ellipse cx="970.5" cy="818.5" rx="11.2" ry="21" transform="rotate(-21.2 970.5 818.5)" fill="#d6d6d6" stroke="#c0c0c0" stroke-width="1" />
<path d="M952.3 754.3L985.9 775.1L1011.5 831.1L1016.3 869.5" fill="none" stroke="#f6f6f6" stroke-width="2.6" />
<path d="M953.1 753.5L987.2 774.5L1012.8 830.8L1017.6 869.5" fill="none" stroke="#74e0e8" stroke-width="1.2" />
<path d="M1009.1 832.7L1009.9 882.3" fill="none" stroke="#74e0e8" stroke-width="1.2" />
<line x1="997.1" y1="767.1" x2="1144.3" y2="710" stroke="#74e0e8" stroke-width="1.8" opacity="0.85"/>
<line x1="998.7" y1="771.9" x2="1141.1" y2="716.7" stroke="#74e0e8" stroke-width="1.3" opacity="0.85"/>
<line x1="1037.1" y1="760.7" x2="1149.1" y2="717.3" stroke="#74e0e8" stroke-width="1.3" opacity="0.85"/>
<line x1="1038.7" y1="765.5" x2="1155.5" y2="720.2" stroke="#74e0e8" stroke-width="1.8" opacity="0.85"/>
<line x1="1091.5" y1="776.7" x2="1165.1" y2="748.2" stroke="#74e0e8" stroke-width="1.4" opacity="0.85"/>
<line x1="1059.5" y1="787.9" x2="1165.9" y2="746.6" stroke="#74e0e8" stroke-width="1.8" opacity="0.85"/>
<line x1="1056.3" y1="803.1" x2="1169.9" y2="759" stroke="#74e0e8" stroke-width="1.4" opacity="0.85"/>
<line x1="1019.5" y1="828.7" x2="1169.9" y2="770.4" stroke="#74e0e8" stroke-width="1.5" opacity="0.85"/>
<line x1="1027.5" y1="833.5" x2="1107.5" y2="802.5" stroke="#74e0e8" stroke-width="1.2" opacity="0.85"/>
<line x1="1059.5" y1="867.9" x2="1168.3" y2="825.7" stroke="#74e0e8" stroke-width="1.6" opacity="0.85"/>
<line x1="1091.5" y1="869.5" x2="1169.9" y2="839.1" stroke="#74e0e8" stroke-width="1.3" opacity="0.85"/>
<line x1="929.9" y1="775.9" x2="953.9" y2="766.6" stroke="#74e0e8" stroke-width="1.2" opacity="0.85"/>
<line x1="968.3" y1="736.7" x2="1094.7" y2="687.7" stroke="#74e0e8" stroke-width="1.2" opacity="0.85"/>
<line x1="1043.5" y1="888.7" x2="1139.5" y2="851.5" stroke="#74e0e8" stroke-width="1.3" opacity="0.85"/>
<path d="M1027.5 771.9L1091.5 749.5L1091.5 781.5L1043.5 799.1Z" fill="#e6e6e6" stroke="none" stroke-width="0" opacity="0.9"/>
<line x1="1045.1" y1="784.7" x2="1091.5" y2="766.3" stroke="#ffffff" stroke-width="1.8" />
<ellipse cx="1037.4" cy="787.1" rx="7.5" ry="14" transform="rotate(-21.2 1037.4 787.1)" fill="none" stroke="#74e0e8" stroke-width="1.1" />
<path d="M921.5 772.5L954.5 749L963 742.5L962.5 737.5L967.5 732L1094.5 683L1104.5 689.5L1112.5 687L1126.5 684.5L1157 702.8L1158.5 707L1148.5 709.5L1154 717.5L1168.3 730.5L1172.3 741.5L1174.7 757.5L1178.7 770.3L1186.7 766.3L1189.9 768.7L1189.9 805.5L1179.5 815.9L1178.7 820.7L1171.5 823.1L1169.9 839.1L1043 892L1038.5 892L1029.5 887L1025 884.9L986 902L946.1 875L921.5 821Z" fill="none" stroke="#000" stroke-width="2.5" stroke-linejoin="round"/>
<path d="M963 742.5L969.5 742.5L1104.5 690" fill="none" stroke="#000" stroke-width="2.3" stroke-linejoin="round"/>
<path d="M664.4 800.5A33.1 62 -21.2 0 0 672.8 730.7A33.1 62 -21.2 0 0 619.6 684.9L536.1 717.3A33.1 62 -21.2 0 0 527.7 787A33.1 62 -21.2 0 0 580.9 832.9Z" fill="url(#g79)" stroke="#000" stroke-width="2.6" stroke-linejoin="round" />
<path d="M544.1 714.2A33.1 62 -21.2 0 1 597.3 760A33.1 62 -21.2 0 1 588.9 829.8" fill="none" stroke="#000" stroke-width="2.8" />
<ellipse cx="558.5" cy="775.1" rx="33.1" ry="62" transform="rotate(-21.2 558.5 775.1)" fill="url(#g80)" stroke="#000" stroke-width="2.8" />
<ellipse cx="562.7" cy="773.4" rx="28.5" ry="53.5" transform="rotate(-21.2 562.7 773.4)" fill="url(#g81)" stroke="#000" stroke-width="3.8" />
<path d="M581 820.3A26.9 50.5 -21.2 0 1 541.6 786.4A26.9 50.5 -21.2 0 1 540.9 729.6" fill="none" stroke="#e6ecf0" stroke-width="1.8" />
<path d="M582.7 819.1A26.7 50 -21.2 0 1 543.7 785.5A26.7 50 -21.2 0 1 543 729.3" fill="none" stroke="#1c1e20" stroke-width="1.6" />
<path d="M910.8 916.1A33.6 63 -21.2 0 0 919.3 845.3A33.6 63 -21.2 0 0 865.2 798.7L770.2 835.5A33.6 63 -21.2 0 0 761.7 906.4A33.6 63 -21.2 0 0 815.8 953Z" fill="url(#g82)" stroke="#000" stroke-width="2.6" stroke-linejoin="round" />
<path d="M802.5 953.3A33.6 63 -21.2 0 0 831.7 920.1A33.6 63 -21.2 0 0 804.2 849A33.6 63 -21.2 0 0 760.2 844.2L744.6 869.2A23.5 44 -21.2 0 0 745.6 912.6A23.5 44 -21.2 0 0 774.2 945.4Z" fill="url(#g83)" stroke="#000" stroke-width="2.6" stroke-linejoin="round" />
<path d="M810 954.2A33.6 63 -21.2 0 1 761.3 905.4A33.6 63 -21.2 0 1 766.1 837.8" fill="none" stroke="#000" stroke-width="2.6" />
<ellipse cx="767.5" cy="904.1" rx="23.5" ry="44" transform="rotate(-21.2 767.5 904.1)" fill="#17181a" stroke="#000" stroke-width="2.6" />
<g clip-path="url(#c85)">
<ellipse cx="772.2" cy="902.3" rx="21.3" ry="40" transform="rotate(-21.2 772.2 902.3)" fill="url(#g84)" stroke="#000" stroke-width="2.4" />
</g>

<path d="M783.1 941.3A21.6 40.5 -21.2 0 1 752.2 915.7A21.6 40.5 -21.2 0 1 749.6 870.2" fill="none" stroke="#dfe5ea" stroke-width="2.2" />
<path d="M785.3 940A21.3 40 -21.2 0 1 754.8 914.7A21.3 40 -21.2 0 1 752.2 869.7" fill="none" stroke="#26292c" stroke-width="1.6" />
<ellipse cx="479" cy="808.4" rx="52" ry="97.5" transform="rotate(-21.2 479 808.4)" fill="none" stroke="#000" stroke-width="9.5" />
<ellipse cx="479" cy="808.4" rx="52" ry="97.5" transform="rotate(-21.2 479 808.4)" fill="none" stroke="#2e2e2e" stroke-width="5.3" />
<ellipse cx="683" cy="939.4" rx="52" ry="97.5" transform="rotate(-21.2 683 939.4)" fill="none" stroke="#000" stroke-width="9.5" />
<ellipse cx="683" cy="939.4" rx="52" ry="97.5" transform="rotate(-21.2 683 939.4)" fill="none" stroke="#2e2e2e" stroke-width="5.3" />
<line x1="597.7" y1="865.6" x2="1408.7" y2="551.7" stroke="#4b8ee3" stroke-width="2" stroke-dasharray="150 8 14 8 14 8" stroke-dashoffset="0"/>
<path d="M331 704.4L340.9 700.6L679 916.2L679 1100.2L669.1 1104L331 888.4ZM429.3 825.2A34.7 65 -21.2 0 1 420.5 898.3A34.7 65 -21.2 0 1 364.7 850.2A34.7 65 -21.2 0 1 373.5 777.1A34.7 65 -21.2 0 1 429.3 825.2ZM633.3 956.2A34.7 65 -21.2 0 1 624.5 1029.3A34.7 65 -21.2 0 1 568.7 981.2A34.7 65 -21.2 0 1 577.5 908.1A34.7 65 -21.2 0 1 633.3 956.2Z" fill="url(#g86)" stroke="none" stroke-width="0" fill-rule="evenodd"/>
<path d="M197 637.7h400v400h-400zM438.7 821.5A34.1 64 -21.2 0 1 430 893.5A34.1 64 -21.2 0 1 375 846.2A34.1 64 -21.2 0 1 383.7 774.2A34.1 64 -21.2 0 1 438.7 821.5Z" fill="#0c0c0c" stroke="none" stroke-width="0" fill-rule="evenodd" clip-path="url(#c87)"/>
<ellipse cx="397" cy="837.7" rx="34.7" ry="65" transform="rotate(-21.2 397 837.7)" fill="none" stroke="#000" stroke-width="2.4" />
<path d="M401 768.7h400v400h-400zM642.7 952.5A34.1 64 -21.2 0 1 634 1024.5A34.1 64 -21.2 0 1 579 977.2A34.1 64 -21.2 0 1 587.7 905.2A34.1 64 -21.2 0 1 642.7 952.5Z" fill="#0c0c0c" stroke="none" stroke-width="0" fill-rule="evenodd" clip-path="url(#c88)"/>
<ellipse cx="601" cy="968.7" rx="34.7" ry="65" transform="rotate(-21.2 601 968.7)" fill="none" stroke="#000" stroke-width="2.4" />
<path d="M669.1 920L679 916.2L679 1100.2L669.1 1104Z" fill="#7f858a" stroke="none" stroke-width="0" />
<path d="M331 704.4L340.9 700.6L679 916.2L669.1 920Z" fill="#70757a" stroke="none" stroke-width="0" />
<path d="M331 704.4L340.9 700.6L679 916.2L679 1100.2L669.1 1104L331 888.4Z" fill="none" stroke="#000" stroke-width="2.6" stroke-linejoin="round"/>
<line x1="338" y1="709.9" x2="666.1" y2="921.5" stroke="#5fd6de" stroke-width="2" />
<line x1="669.6" y1="928" x2="669.6" y2="1098" stroke="#5fd6de" stroke-width="2" />
<line x1="262" y1="890.1" x2="430" y2="824.9" stroke="#4b8ee3" stroke-width="2" stroke-dasharray="40 6 10 6" stroke-dashoffset="0"/>
<line x1="470" y1="1019.5" x2="640" y2="953.6" stroke="#4b8ee3" stroke-width="2" stroke-dasharray="40 6 10 6" stroke-dashoffset="0"/>
<ellipse cx="330" cy="863.7" rx="36.3" ry="68" transform="rotate(-21.2 330 863.7)" fill="none" stroke="#000" stroke-width="5.5" />
<ellipse cx="330" cy="863.7" rx="36.3" ry="68" transform="rotate(-21.2 330 863.7)" fill="none" stroke="#2e2e2e" stroke-width="1.3" />
<ellipse cx="536" cy="993.9" rx="36.3" ry="68" transform="rotate(-21.2 536 993.9)" fill="none" stroke="#000" stroke-width="5.5" />
<ellipse cx="536" cy="993.9" rx="36.3" ry="68" transform="rotate(-21.2 536 993.9)" fill="none" stroke="#2e2e2e" stroke-width="1.3" />
<line x1="194" y1="827" x2="260" y2="801.5" stroke="#4b8ee3" stroke-width="2" stroke-dasharray="34 8 9 8" stroke-dashoffset="0"/>
<line x1="400" y1="961" x2="506" y2="920" stroke="#4b8ee3" stroke-width="2" stroke-dasharray="34 8 9 8" stroke-dashoffset="0"/>
<path d="M254.7 961A33.9 63.5 -21.2 0 0 263.3 889.5A33.9 63.5 -21.2 0 0 208.8 842.6L136 870.8A33.9 63.5 -21.2 0 0 127.4 942.2A33.9 63.5 -21.2 0 0 182 989.2Z" fill="url(#g89)" stroke="#000" stroke-width="2.6" stroke-linejoin="round" />
<ellipse cx="159" cy="930" rx="33.9" ry="63.5" transform="rotate(-21.2 159 930)" fill="url(#g90)" stroke="#000" stroke-width="2.6" />
<path d="M145.4 871.2A33 61.9 -21.2 0 1 186.6 910.6A33 61.9 -21.2 0 1 193.8 974" fill="none" stroke="#6ad6dc" stroke-width="1.2" />
<path d="M162 791L162 875A11.5 5.7 0 0 0 185 875L185 791Z" fill="url(#g91)" stroke="#000" stroke-width="2.2" />
<path d="M163 876A11.5 5.7 0 0 0 182 877" fill="none" stroke="#6ad6dc" stroke-width="1.2"/>
<ellipse cx="173.5" cy="791" rx="11.5" ry="5.7" fill="#70767b" stroke="#000" stroke-width="2.2"/>
<line x1="176" y1="989" x2="176" y2="1029" stroke="#4b8ee3" stroke-width="2" stroke-dasharray="16 4 3 4"/>
<path d="M171.7 1046v5a4.3 2.6 0 0 0 8.6 0v-5z" fill="#8a8a8a" stroke="#000" stroke-width="1.6"/>
<ellipse cx="176" cy="1046" rx="4.3" ry="2.6" fill="#3a3a3a" stroke="#000" stroke-width="1.6"/>
<path d="M458.7 1092A33.9 63.5 -21.2 0 0 467.3 1020.5A33.9 63.5 -21.2 0 0 412.8 973.6L340 1001.8A33.9 63.5 -21.2 0 0 331.4 1073.2A33.9 63.5 -21.2 0 0 386 1120.2Z" fill="url(#g92)" stroke="#000" stroke-width="2.6" stroke-linejoin="round" />
<ellipse cx="363" cy="1061" rx="33.9" ry="63.5" transform="rotate(-21.2 363 1061)" fill="url(#g93)" stroke="#000" stroke-width="2.6" />
<path d="M349.4 1002.2A33 61.9 -21.2 0 1 390.6 1041.6A33 61.9 -21.2 0 1 397.8 1105" fill="none" stroke="#6ad6dc" stroke-width="1.2" />
<path d="M366 922L366 1006A11.5 5.7 0 0 0 389 1006L389 922Z" fill="url(#g94)" stroke="#000" stroke-width="2.2" />
<path d="M367 1007A11.5 5.7 0 0 0 386 1008" fill="none" stroke="#6ad6dc" stroke-width="1.2"/>
<ellipse cx="377.5" cy="922" rx="11.5" ry="5.7" fill="#70767b" stroke="#000" stroke-width="2.2"/>
<line x1="398.5" y1="1120" x2="398.5" y2="1160" stroke="#4b8ee3" stroke-width="2" stroke-dasharray="16 4 3 4"/>
<path d="M394.2 1170v5a4.3 2.6 0 0 0 8.6 0v-5z" fill="#8a8a8a" stroke="#000" stroke-width="1.6"/>
<ellipse cx="398.5" cy="1170" rx="4.3" ry="2.6" fill="#3a3a3a" stroke="#000" stroke-width="1.6"/>
<path d="M1473 358C1472.7 347 1473.8 331 1476 320C1478.2 309 1481 300.7 1486 292C1491 283.3 1497 275 1506 268C1515 261 1527.7 254.5 1540 250C1552.3 245.5 1566.7 242.7 1580 241C1593.3 239.3 1608.3 239.9 1620 240C1631.7 240.1 1638.3 240.3 1650 241.6C1661.7 242.9 1676.7 244.9 1690 248C1703.3 251.1 1715 254.7 1730 260C1745 265.3 1765 273 1780 280C1795 287 1806.7 293.7 1820 302C1833.3 310.3 1846.7 319.7 1860 330C1873.3 340.3 1886.7 351.7 1900 364C1913.3 376.3 1928.3 390.7 1940 404C1951.7 417.3 1962 431.3 1970 444C1978 456.7 1983.2 467.3 1988 480C1992.8 492.7 1996.2 506.7 1999 520C2001.8 533.3 2004.3 547 2005 560C2005.7 573 2005.5 586.7 2003 598C2000.5 609.3 1996.2 619.8 1990 628C1983.8 636.2 1974.3 642 1966 647C1957.7 652 1949.3 655.2 1940 658C1930.7 660.8 1920 663.5 1910 664C1900 664.5 1890 662.7 1880 661C1870 659.3 1863.3 658.2 1850 654C1836.7 649.8 1815 642.7 1800 636C1785 629.3 1772 621.8 1760 614C1748 606.2 1739.3 597.3 1728 589C1716.7 580.7 1704.2 572.3 1692 564C1679.8 555.7 1667.3 547.3 1655 539C1642.7 530.7 1629.7 521.7 1618 514C1606.3 506.3 1595 499.2 1585 493C1575 486.8 1566.5 482.2 1558 477C1549.5 471.8 1541 467.2 1534 462C1527 456.8 1521.7 452.7 1516 446C1510.3 439.3 1506.3 432 1500 422C1493.7 412 1482.5 396.7 1478 386C1473.5 375.3 1473.3 369 1473 358Z" fill="none" stroke="#a6cbea" stroke-width="1.2" stroke-dasharray="70 7 16 7"/>
<line x1="1618" y1="514" x2="1724" y2="586" stroke="#b59a4a" stroke-width="2.4" />
<line x1="1618" y1="514" x2="1724" y2="586" stroke="#ece8d8" stroke-width="1.1" stroke-dasharray="62 6 8 6"/>
<line x1="112" y1="1075" x2="147" y2="996" stroke="#2a2d30" stroke-width="1.1" />
<path d="M147 996L145.4 1006.8L140.1 1004.4Z" fill="#2a2d30" stroke="none" stroke-width="0" />
<line x1="315" y1="1198" x2="351" y2="1122" stroke="#2a2d30" stroke-width="1.1" />
<path d="M351 1122L349.1 1132.7L343.9 1130.2Z" fill="#2a2d30" stroke="none" stroke-width="0" />
<line x1="498" y1="628" x2="557" y2="686" stroke="#2a2d30" stroke-width="1.1" />
<path d="M557 686L547.5 680.7L551.5 676.6Z" fill="#2a2d30" stroke="none" stroke-width="0" />
<line x1="957" y1="1000" x2="896" y2="942" stroke="#2a2d30" stroke-width="1.1" />
<path d="M896 942L905.6 947.1L901.6 951.3Z" fill="#2a2d30" stroke="none" stroke-width="0" />
<line x1="1190" y1="392" x2="1250" y2="450" stroke="#2a2d30" stroke-width="1.1" />
<path d="M1250 450L1240.4 444.8L1244.5 440.6Z" fill="#2a2d30" stroke="none" stroke-width="0" />
<line x1="1598" y1="730" x2="1537" y2="675" stroke="#2a2d30" stroke-width="1.1" />
<path d="M1537 675L1546.7 679.9L1542.9 684.2Z" fill="#2a2d30" stroke="none" stroke-width="0" />
<line x1="55.0" y1="176.8" x2="570.1" y2="176.8" stroke="#5b5f64" stroke-width="1.35"/><line x1="55.0" y1="209.2" x2="570.1" y2="209.2" stroke="#5b5f64" stroke-width="1.35"/><line x1="55.0" y1="242.2" x2="570.1" y2="242.2" stroke="#5b5f64" stroke-width="1.35"/><line x1="55.0" y1="274.8" x2="570.1" y2="274.8" stroke="#5b5f64" stroke-width="1.35"/><line x1="55.0" y1="307.5" x2="570.1" y2="307.5" stroke="#5b5f64" stroke-width="1.35"/><line x1="55.0" y1="339.9" x2="570.1" y2="339.9" stroke="#5b5f64" stroke-width="1.35"/><line x1="55.0" y1="374.2" x2="570.1" y2="374.2" stroke="#5b5f64" stroke-width="1.35"/><line x1="55.6" y1="176.8" x2="55.6" y2="374.2" stroke="#5b5f64" stroke-width="1.35"/><line x1="111.4" y1="176.8" x2="111.4" y2="374.2" stroke="#5b5f64" stroke-width="1.35"/><line x1="251.5" y1="176.8" x2="251.5" y2="374.2" stroke="#5b5f64" stroke-width="1.35"/><line x1="569.5" y1="176.8" x2="569.5" y2="374.2" stroke="#5b5f64" stroke-width="1.35"/></svg>
<span class="t" style="left:70px;top:182.9px">01</span><span class="t" style="left:131px;top:182.9px">SPOM1733</span><span class="t" style="left:268px;top:182.9px">Omstelknop 2-weg omstel</span><span class="t" style="left:70px;top:215.7px">02</span><span class="t" style="left:131px;top:215.7px">SPOM735</span><span class="t" style="left:268px;top:215.7px">Hendel mixer</span><span class="t" style="left:70px;top:248.4px">03</span><span class="t" style="left:131px;top:248.4px">SPOM1694</span><span class="t" style="left:268px;top:248.4px">Bodyhuls 2-weg omstel</span><span class="t" style="left:70px;top:281.2px">04</span><span class="t" style="left:131px;top:281.2px">SPOM736</span><span class="t" style="left:268px;top:281.2px">Bodyhuls t.b.v. mengknop</span><span class="t" style="left:70px;top:313.9px">05</span><span class="t" style="left:131px;top:313.9px">SPOM1645</span><span class="t" style="left:268px;top:313.9px">Binnenwerk 2-weg omstel</span><span class="t" style="left:70px;top:346.7px">06</span><span class="t" style="left:131px;top:346.7px">SPOM24</span><span class="t" style="left:268px;top:346.7px">Cartridge mixer</span><span class="lb" style="left:1152px;top:355.4px">05</span><span class="lb" style="left:462px;top:593.4px">03</span><span class="lb" style="left:1603px;top:726.4px">06</span><span class="lb" style="left:962px;top:995.4px">04</span><span class="lb" style="left:87px;top:1073.4px">01</span><span class="lb" style="left:292px;top:1200.4px">02</span><span class="date">2021-04-26</span>
</body></html>
